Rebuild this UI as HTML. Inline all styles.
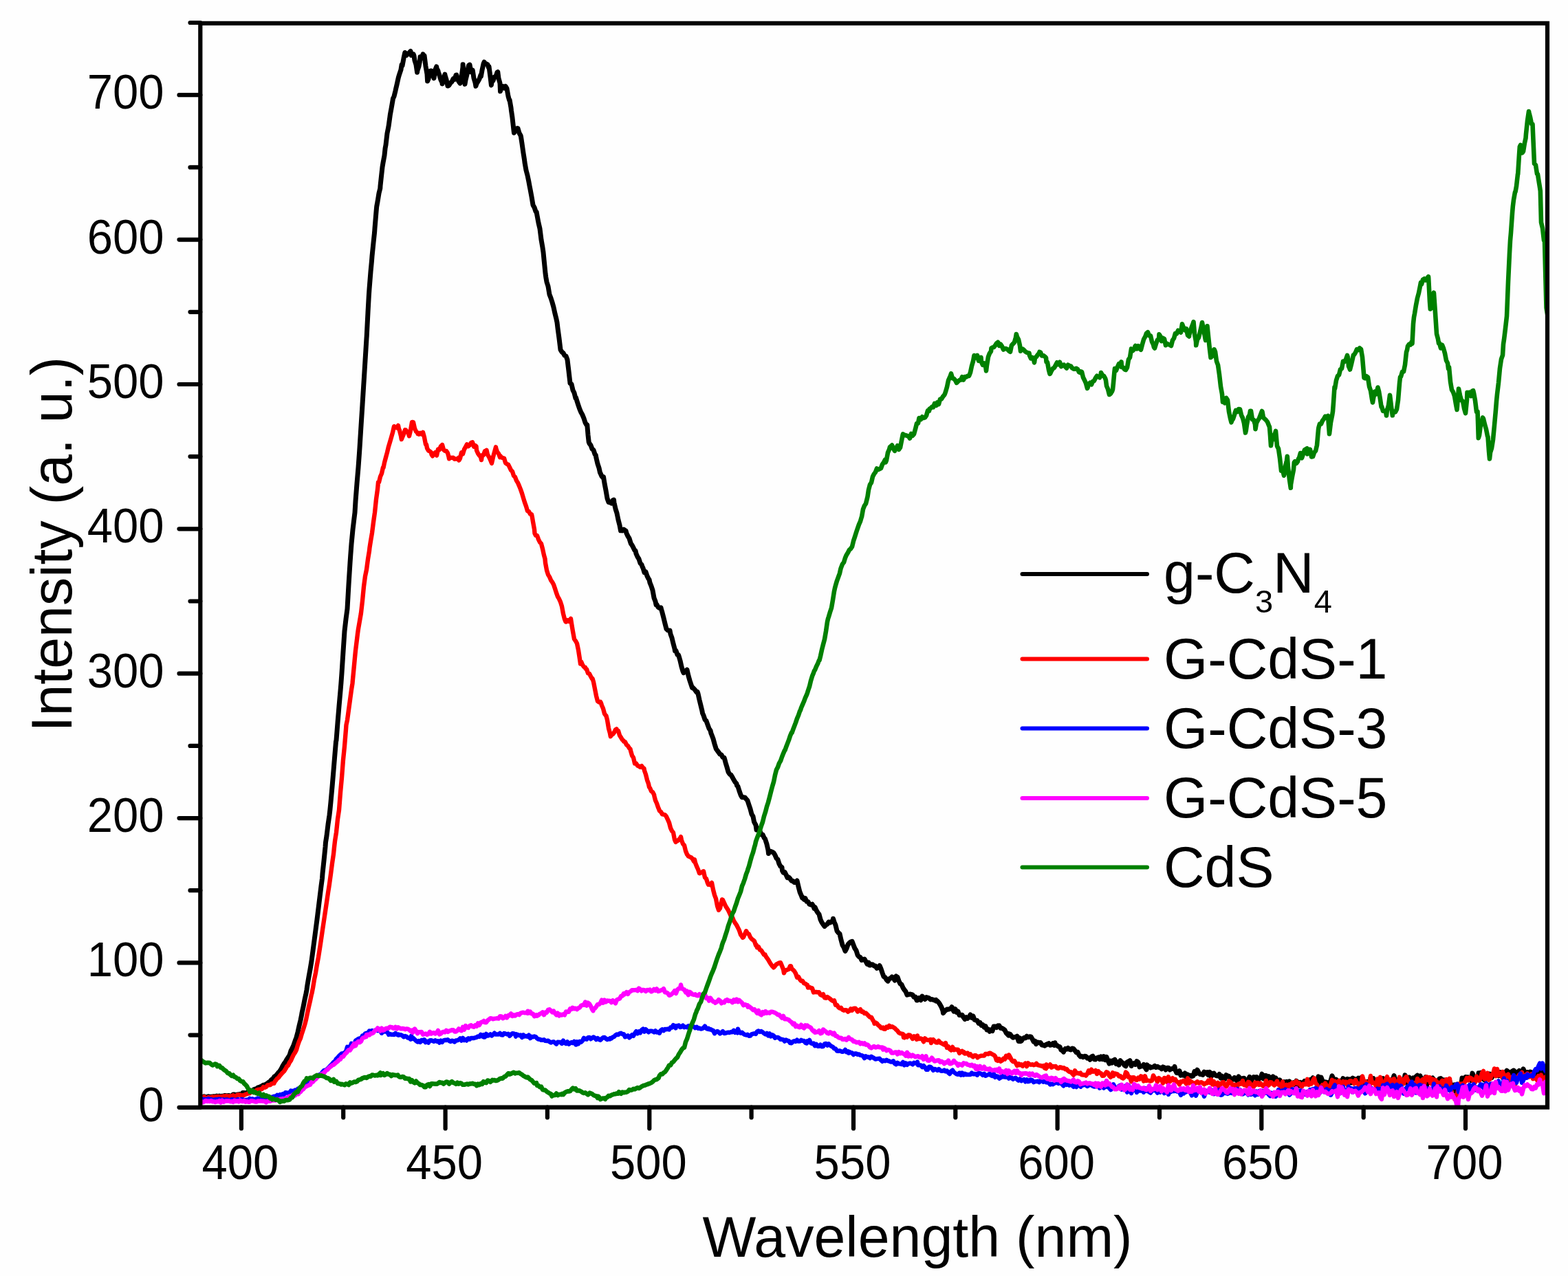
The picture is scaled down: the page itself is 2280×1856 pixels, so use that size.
<!DOCTYPE html>
<html><head><meta charset="utf-8"><title>PL spectra</title>
<style>
html,body{margin:0;padding:0;background:#fff;width:2280px;height:1856px;overflow:hidden}
svg{display:block}
text{font-family:"Liberation Sans",Arial,Helvetica,sans-serif;fill:#000}
</style></head><body>
<svg width="2280" height="1856" viewBox="0 0 2280 1856">
<rect width="2280" height="1856" fill="#fefefe"/>
<defs><clipPath id="pa"><rect x="291.3" y="33.9" width="1958.7" height="1576.8"/></clipPath></defs>

<g clip-path="url(#pa)" fill="none" stroke-linejoin="round" stroke-linecap="round">
<path stroke="#000000" stroke-width="7.0" d="M291.0 1596.0L293.0 1596.1L295.0 1595.7L297.0 1594.7L299.0 1595.9L301.0 1595.5L303.0 1594.8L305.0 1595.4L307.0 1595.2L309.0 1595.0L311.0 1594.8L313.0 1595.0L315.0 1594.1L317.0 1594.4L319.0 1594.1L321.0 1594.6L323.0 1594.2L325.0 1593.9L327.0 1593.5L329.0 1593.7L331.0 1593.8L333.0 1593.5L335.0 1594.3L337.0 1594.1L339.0 1592.0L341.0 1592.1L343.0 1592.6L345.0 1592.0L347.0 1591.9L349.0 1591.4L351.0 1592.0L353.0 1589.6L355.0 1589.5L357.0 1590.5L359.0 1589.1L361.0 1588.6L363.0 1587.4L365.0 1586.3L366.0 1587.1L367.0 1586.6L369.0 1584.8L371.0 1584.1L373.0 1583.5L375.0 1581.9L377.0 1581.4L379.0 1580.6L381.0 1579.5L383.0 1578.2L385.0 1577.9L387.0 1577.0L389.0 1575.7L391.0 1574.0L393.0 1572.9L395.0 1570.2L397.0 1569.0L399.0 1565.9L401.0 1565.0L403.0 1562.5L405.0 1559.8L406.0 1559.3L407.0 1557.9L409.0 1554.7L411.0 1550.6L413.0 1547.2L415.0 1544.6L417.0 1540.9L419.0 1538.0L421.0 1535.0L423.0 1528.5L425.0 1524.7L427.0 1520.2L429.0 1514.3L431.0 1509.0L433.0 1501.3L435.0 1492.3L437.0 1484.0L438.5 1476.8L439.0 1473.6L441.0 1464.4L443.0 1454.2L445.0 1445.0L446.0 1439.6L447.0 1432.5L449.0 1420.8L451.0 1410.0L453.0 1397.9L453.5 1394.1L455.0 1383.0L457.0 1367.9L459.0 1352.6L461.0 1337.5L463.0 1321.2L465.0 1304.9L467.0 1288.8L468.5 1277.6L469.0 1270.7L471.0 1251.8L473.0 1232.0L473.5 1225.3L475.0 1215.9L477.0 1199.3L479.0 1185.7L480.0 1176.8L481.0 1166.5L483.0 1144.4L485.0 1120.7L487.0 1096.5L488.5 1078.7L489.0 1076.8L491.0 1051.2L493.0 1027.2L495.0 1004.8L496.0 992.8L497.0 979.0L499.0 948.0L501.0 918.0L503.0 900.6L505.0 885.6L507.0 850.3L509.0 818.9L509.8 807.3L511.0 791.2L513.0 770.4L515.0 753.7L516.0 745.6L517.0 729.0L519.0 703.2L521.0 679.9L522.5 659.0L523.0 651.4L525.0 619.6L527.0 588.6L528.8 559.5L529.0 556.4L531.0 524.3L533.0 491.9L533.2 489.4L535.0 454.2L536.3 430.5L537.0 420.3L539.0 395.1L540.4 380.4L541.0 372.7L543.0 353.0L544.6 337.9L545.0 332.0L547.0 308.1L547.7 300.5L549.0 293.5L551.0 281.1L552.8 274.0L553.0 270.5L555.0 251.8L556.0 242.9L557.0 236.9L559.0 226.2L560.1 215.6L561.0 210.8L563.0 193.9L564.2 188.0L565.0 183.9L567.0 169.6L567.4 166.5L569.0 157.9L571.0 146.3L571.5 143.2L573.0 140.2L575.0 132.1L575.6 129.3L577.0 123.4L579.0 114.3L579.4 112.6L581.0 107.3L583.0 101.4L584.1 94.2L585.0 95.6L587.0 84.8L588.8 76.5L589.0 80.0L591.0 80.5L593.0 78.0L595.0 76.9L597.0 74.4L598.1 80.4L599.0 79.3L601.0 78.7L601.9 80.9L603.0 87.9L605.0 94.2L606.6 105.3L607.0 102.3L609.0 96.5L610.3 90.0L611.0 82.8L613.0 84.7L615.0 78.9L616.9 81.9L617.0 80.8L619.0 96.3L621.0 107.8L621.6 118.1L623.0 114.8L625.0 103.4L626.3 102.9L627.0 103.0L629.0 110.3L630.0 110.9L631.0 113.8L633.0 101.3L634.7 96.9L635.0 99.4L637.0 103.2L637.5 105.5L639.0 109.4L641.0 116.2L643.0 120.2L643.1 121.9L645.0 115.4L646.9 108.1L647.0 109.3L649.0 115.7L651.0 125.0L651.6 125.0L653.0 123.9L655.0 120.7L657.0 118.9L659.0 114.7L661.0 115.5L663.0 109.4L663.8 109.1L665.0 113.9L667.0 118.4L669.0 121.1L669.4 118.8L671.0 112.3L673.0 97.8L673.1 93.8L675.0 116.0L676.0 122.4L677.0 116.4L679.0 108.4L681.0 97.5L681.6 95.1L683.0 94.1L685.0 104.6L687.0 103.4L687.2 101.9L689.0 113.8L691.0 120.2L691.9 125.3L693.0 121.8L695.0 118.4L697.0 115.0L699.0 109.0L699.4 111.1L701.0 102.1L703.0 92.9L704.1 90.2L705.0 91.9L707.0 92.9L709.0 93.9L710.6 98.7L711.0 96.7L713.0 112.0L714.4 123.9L715.0 119.5L717.0 117.2L719.0 111.9L721.0 111.3L723.0 105.2L723.8 104.7L725.0 113.9L727.0 121.0L727.5 132.8L729.0 126.4L731.0 125.6L733.0 128.1L735.0 125.5L737.0 128.6L739.0 140.0L740.7 146.1L741.0 145.2L743.0 156.7L743.5 161.0L745.0 171.3L747.0 189.4L747.5 193.2L749.0 190.3L751.0 187.0L752.5 186.5L753.0 186.8L755.0 193.6L757.0 197.0L757.5 198.9L759.0 208.7L761.0 222.8L762.5 232.1L763.0 236.3L765.0 247.6L767.0 255.1L769.0 264.8L770.0 270.3L771.0 275.4L773.0 286.2L775.0 298.2L777.0 301.7L779.0 307.7L780.0 308.0L781.0 313.4L783.0 324.1L785.0 332.6L787.0 348.7L789.0 360.2L790.0 367.0L791.0 377.4L793.0 397.5L793.8 403.3L795.0 410.2L797.0 416.5L799.0 428.5L800.0 430.9L801.0 433.5L803.0 439.8L805.0 447.0L807.0 456.2L809.0 464.2L810.0 468.9L811.0 477.3L813.0 491.9L815.0 508.6L817.0 511.9L819.0 513.5L821.0 517.1L823.0 517.9L825.0 523.3L827.0 539.8L828.8 555.6L829.0 557.6L831.0 558.8L833.0 567.5L835.0 571.5L837.0 579.3L837.5 578.4L839.0 583.4L841.0 589.6L843.0 595.4L845.0 600.1L847.0 603.6L849.0 608.5L851.0 614.8L853.0 618.3L853.8 618.0L855.0 632.3L856.2 643.0L857.0 645.0L859.0 647.6L861.0 653.0L863.0 654.7L865.0 660.7L866.2 661.9L867.0 666.3L869.0 674.7L871.0 680.6L872.5 687.4L873.0 688.3L875.0 692.7L877.0 695.1L877.5 693.5L879.0 703.0L881.0 713.4L883.0 725.0L885.0 730.5L887.0 730.8L889.0 732.0L891.0 727.7L892.5 727.1L893.0 731.2L895.0 740.1L897.0 746.4L899.0 756.1L901.0 763.9L902.5 771.8L903.0 770.1L905.0 771.9L907.0 770.1L909.0 771.5L910.0 771.9L911.0 775.8L913.0 779.9L915.0 783.1L917.0 789.6L917.5 790.9L919.0 792.9L921.0 796.7L923.0 800.8L924.0 801.0L925.0 805.4L927.0 809.9L929.0 813.0L931.0 819.3L933.0 821.2L934.0 824.3L935.0 826.2L937.0 832.6L939.0 831.8L941.0 837.9L943.0 841.9L944.0 843.0L945.0 847.7L947.0 852.5L949.0 858.6L951.0 869.7L953.0 874.8L954.0 879.6L955.0 879.3L957.0 883.3L959.0 884.4L961.0 883.8L961.5 886.1L963.0 891.1L965.0 898.8L967.0 907.1L969.0 914.8L971.0 916.7L973.0 917.4L974.0 917.1L975.0 922.4L977.0 927.8L979.0 936.2L981.0 943.7L981.5 946.8L983.0 946.6L985.0 952.3L986.5 952.7L987.0 954.1L989.0 960.9L991.0 969.7L993.0 976.4L994.0 978.7L995.0 977.6L997.0 976.3L999.0 974.2L1001.0 983.0L1003.0 990.0L1005.0 996.0L1006.5 1000.4L1007.0 999.8L1009.0 1001.7L1011.0 1004.1L1013.0 1006.9L1014.0 1006.1L1015.0 1009.0L1017.0 1018.0L1019.0 1026.1L1021.0 1034.4L1021.5 1037.3L1023.0 1040.7L1025.0 1046.7L1027.0 1048.6L1029.0 1054.1L1031.0 1059.6L1033.0 1062.6L1034.0 1066.9L1035.0 1069.2L1037.0 1074.5L1039.0 1082.0L1041.0 1088.4L1041.5 1089.7L1043.0 1091.6L1045.0 1094.4L1047.0 1097.1L1049.0 1097.9L1051.0 1101.4L1053.0 1102.0L1054.0 1105.3L1055.0 1109.2L1057.0 1115.7L1059.0 1122.8L1061.0 1126.0L1063.0 1127.3L1065.0 1130.6L1067.0 1134.3L1069.0 1137.7L1071.0 1139.8L1071.5 1142.6L1073.0 1143.9L1075.0 1150.5L1077.0 1156.2L1079.0 1159.8L1081.0 1159.7L1083.0 1159.9L1085.0 1162.2L1086.5 1163.8L1087.0 1164.5L1089.0 1170.8L1091.0 1176.7L1093.0 1184.3L1095.0 1187.6L1096.5 1195.3L1097.0 1196.4L1099.0 1200.1L1100.0 1207.1L1101.0 1204.0L1103.0 1206.7L1105.0 1208.9L1107.0 1214.0L1109.0 1213.9L1111.0 1218.4L1112.5 1220.2L1113.0 1221.8L1115.0 1227.9L1117.0 1236.8L1117.5 1241.5L1119.0 1238.0L1121.0 1238.5L1123.0 1239.3L1125.0 1240.5L1127.0 1243.8L1129.0 1248.4L1131.0 1250.2L1133.0 1256.6L1135.0 1260.2L1137.0 1261.6L1137.5 1266.3L1139.0 1269.2L1141.0 1268.5L1143.0 1272.3L1145.0 1276.7L1147.0 1276.0L1149.0 1278.2L1150.0 1279.9L1151.0 1281.2L1153.0 1281.4L1155.0 1283.5L1157.0 1283.2L1159.0 1281.0L1161.0 1289.6L1163.0 1297.5L1165.0 1302.1L1166.5 1306.1L1167.0 1305.0L1169.0 1308.2L1171.0 1306.8L1173.0 1311.3L1175.0 1311.6L1177.0 1315.3L1179.0 1316.0L1181.0 1315.2L1183.0 1318.8L1184.0 1321.4L1185.0 1319.5L1187.0 1324.1L1189.0 1327.4L1191.0 1329.9L1193.0 1337.5L1195.0 1341.8L1197.0 1344.6L1199.0 1347.4L1201.0 1345.3L1203.0 1344.2L1205.0 1341.0L1207.0 1342.0L1209.0 1340.7L1211.0 1338.9L1211.5 1336.2L1213.0 1341.0L1215.0 1345.7L1217.0 1354.0L1219.0 1356.6L1221.0 1358.4L1223.0 1367.2L1225.0 1374.7L1227.0 1378.0L1229.0 1383.4L1231.0 1379.6L1233.0 1373.8L1235.0 1371.6L1237.0 1370.0L1239.0 1369.3L1241.0 1374.5L1243.0 1379.6L1245.0 1382.5L1247.0 1389.0L1249.0 1391.6L1251.0 1392.5L1253.0 1396.7L1255.0 1395.5L1257.0 1395.1L1259.0 1398.6L1261.0 1402.2L1263.0 1400.1L1264.0 1403.9L1265.0 1404.1L1267.0 1402.7L1269.0 1403.0L1271.0 1404.9L1273.0 1405.1L1275.0 1408.3L1277.0 1407.3L1279.0 1404.5L1281.0 1409.1L1283.0 1415.1L1285.0 1420.5L1287.0 1421.6L1289.0 1425.0L1291.0 1427.1L1293.0 1423.8L1295.0 1423.0L1297.0 1420.9L1299.0 1422.0L1301.0 1426.0L1303.0 1419.9L1304.0 1422.0L1305.0 1421.2L1307.0 1426.7L1309.0 1430.9L1311.0 1432.1L1313.0 1436.7L1315.0 1439.7L1317.0 1442.2L1319.0 1447.2L1321.0 1446.7L1323.0 1446.0L1325.0 1446.4L1327.0 1447.1L1329.0 1450.3L1331.0 1450.0L1333.0 1455.0L1334.0 1454.9L1335.0 1451.7L1337.0 1451.5L1339.0 1454.7L1341.0 1449.0L1343.0 1451.3L1345.0 1453.5L1347.0 1450.5L1349.0 1451.2L1351.0 1451.8L1353.0 1453.9L1355.0 1453.4L1357.0 1454.2L1359.0 1455.0L1361.0 1454.4L1361.5 1456.3L1363.0 1456.0L1365.0 1458.3L1367.0 1461.3L1369.0 1465.0L1371.0 1470.2L1371.5 1473.6L1373.0 1471.7L1375.0 1469.6L1377.0 1468.1L1379.0 1468.2L1381.0 1467.6L1383.0 1466.5L1384.0 1464.7L1385.0 1467.1L1387.0 1471.1L1389.0 1467.7L1391.0 1472.4L1393.0 1471.1L1395.0 1476.5L1397.0 1476.6L1399.0 1476.2L1401.0 1479.7L1403.0 1482.4L1405.0 1479.7L1407.0 1481.4L1409.0 1479.4L1411.0 1476.0L1413.0 1480.3L1414.0 1478.8L1415.0 1478.0L1417.0 1483.3L1419.0 1484.1L1421.0 1484.5L1423.0 1488.4L1425.0 1487.3L1427.0 1491.4L1429.0 1490.5L1431.0 1494.1L1433.0 1492.6L1435.0 1498.0L1437.0 1497.2L1439.0 1500.3L1441.0 1497.9L1441.5 1498.7L1443.0 1499.5L1445.0 1492.9L1447.0 1493.0L1449.0 1494.6L1451.0 1491.9L1451.5 1492.3L1453.0 1491.9L1455.0 1495.4L1457.0 1495.5L1459.0 1496.7L1461.0 1498.3L1463.0 1502.3L1465.0 1504.5L1466.5 1506.0L1467.0 1503.6L1469.0 1504.5L1471.0 1507.4L1473.0 1509.3L1475.0 1508.5L1477.0 1508.6L1479.0 1507.1L1481.0 1514.4L1483.0 1510.0L1484.0 1514.7L1485.0 1514.2L1487.0 1511.4L1489.0 1509.4L1491.0 1509.9L1493.0 1507.2L1495.0 1508.8L1497.0 1507.7L1499.0 1507.9L1501.0 1511.2L1503.0 1515.1L1505.0 1514.4L1506.5 1518.7L1507.0 1515.8L1509.0 1516.0L1511.0 1516.8L1513.0 1516.5L1515.0 1520.0L1517.0 1520.2L1519.0 1521.1L1521.0 1519.4L1521.5 1519.9L1523.0 1518.6L1525.0 1517.7L1527.0 1520.2L1529.0 1519.9L1531.0 1517.7L1533.0 1520.4L1534.0 1516.7L1535.0 1519.9L1537.0 1520.6L1539.0 1522.2L1541.0 1522.7L1543.0 1527.3L1545.0 1528.1L1546.5 1530.1L1547.0 1528.3L1549.0 1525.4L1551.0 1526.3L1553.0 1524.4L1555.0 1526.4L1557.0 1527.0L1559.0 1525.0L1561.0 1525.5L1563.0 1527.9L1565.0 1530.8L1567.0 1530.2L1569.0 1534.7L1571.0 1536.8L1571.5 1536.1L1573.0 1536.5L1575.0 1537.7L1577.0 1536.3L1579.0 1536.5L1581.0 1539.3L1583.0 1538.7L1585.0 1541.2L1587.0 1537.2L1589.0 1536.2L1591.0 1540.7L1593.0 1541.0L1595.0 1538.7L1597.0 1537.9L1599.0 1540.6L1601.0 1536.8L1603.0 1540.6L1605.0 1536.6L1607.0 1541.7L1609.0 1537.5L1611.0 1542.5L1613.0 1547.1L1615.0 1543.2L1617.0 1546.1L1618.0 1542.9L1619.0 1542.4L1621.0 1541.1L1623.0 1547.4L1625.0 1545.0L1627.0 1549.2L1629.0 1542.7L1631.0 1545.2L1633.0 1546.1L1635.0 1549.5L1637.0 1550.7L1639.0 1544.9L1641.0 1544.0L1643.0 1542.7L1645.0 1550.5L1647.0 1547.5L1649.0 1546.5L1651.0 1548.4L1653.0 1543.7L1655.0 1545.1L1657.0 1551.9L1659.0 1551.0L1661.0 1550.8L1663.0 1548.5L1665.0 1552.7L1667.0 1555.9L1668.0 1548.9L1669.0 1552.0L1671.0 1551.0L1673.0 1553.1L1675.0 1552.3L1677.0 1552.1L1679.0 1550.4L1681.0 1552.6L1683.0 1551.3L1685.0 1552.6L1687.0 1552.9L1689.0 1554.8L1691.0 1551.9L1693.0 1552.7L1695.0 1556.1L1697.0 1553.2L1699.0 1553.2L1701.0 1556.0L1703.0 1554.7L1705.0 1554.4L1707.0 1554.8L1708.0 1551.4L1709.0 1556.5L1711.0 1560.6L1713.0 1560.8L1715.0 1557.6L1717.0 1564.1L1718.0 1562.2L1719.0 1563.7L1721.0 1564.3L1723.0 1560.9L1725.0 1566.7L1727.0 1563.0L1729.0 1564.8L1731.0 1564.2L1733.0 1565.6L1735.0 1565.0L1737.0 1558.3L1739.0 1561.7L1741.0 1556.2L1743.0 1560.0L1745.0 1562.5L1747.0 1562.7L1749.0 1563.4L1751.0 1559.1L1753.0 1560.5L1755.0 1559.7L1755.5 1562.5L1757.0 1563.6L1759.0 1559.5L1761.0 1566.2L1763.0 1561.4L1765.0 1561.1L1767.0 1563.9L1769.0 1564.8L1771.0 1564.9L1773.0 1562.5L1775.0 1568.2L1777.0 1565.3L1779.0 1569.4L1781.0 1569.6L1783.0 1563.7L1785.0 1565.0L1787.0 1565.4L1789.0 1569.0L1791.0 1569.0L1793.0 1570.1L1795.0 1567.4L1797.0 1570.3L1799.0 1572.5L1801.0 1565.9L1803.0 1568.5L1805.0 1569.5L1807.0 1568.4L1809.0 1568.2L1811.0 1572.8L1813.0 1571.5L1815.0 1570.4L1817.0 1566.4L1819.0 1573.5L1821.0 1568.9L1823.0 1566.6L1825.0 1567.1L1827.0 1566.6L1829.0 1572.8L1831.0 1568.1L1833.0 1567.6L1835.0 1562.2L1837.0 1569.0L1839.0 1564.6L1841.0 1564.4L1843.0 1568.4L1845.0 1565.7L1847.0 1570.6L1849.0 1572.1L1851.0 1565.9L1853.0 1570.6L1855.0 1568.0L1857.0 1572.4L1859.0 1575.6L1861.0 1570.9L1863.0 1579.3L1865.0 1575.0L1867.0 1573.7L1868.0 1576.7L1869.0 1578.8L1871.0 1573.4L1873.0 1576.5L1875.0 1573.0L1877.0 1579.0L1879.0 1576.2L1881.0 1574.6L1883.0 1577.9L1885.0 1572.2L1887.0 1574.1L1889.0 1579.3L1891.0 1574.4L1893.0 1577.7L1895.0 1574.7L1897.0 1572.4L1899.0 1573.3L1901.0 1573.9L1903.0 1572.0L1905.0 1570.4L1907.0 1570.4L1909.0 1567.8L1911.0 1573.0L1913.0 1573.8L1915.0 1574.8L1917.0 1565.9L1918.0 1574.7L1919.0 1571.9L1921.0 1567.1L1923.0 1572.3L1925.0 1574.7L1927.0 1573.7L1929.0 1574.4L1931.0 1575.1L1933.0 1575.0L1935.0 1571.8L1937.0 1564.8L1939.0 1569.3L1941.0 1573.1L1943.0 1570.3L1945.0 1574.3L1947.0 1574.6L1949.0 1572.1L1951.0 1578.3L1953.0 1568.6L1955.0 1575.1L1957.0 1570.3L1959.0 1569.3L1961.0 1573.9L1963.0 1569.8L1965.0 1574.9L1967.0 1568.0L1968.0 1572.1L1969.0 1569.1L1971.0 1571.1L1973.0 1570.7L1975.0 1568.1L1977.0 1574.2L1979.0 1567.7L1981.0 1568.6L1983.0 1575.0L1985.0 1575.2L1987.0 1574.2L1989.0 1573.1L1991.0 1579.5L1993.0 1567.8L1995.0 1569.4L1997.0 1568.6L1999.0 1575.0L2001.0 1572.9L2003.0 1575.7L2005.0 1575.2L2007.0 1571.2L2009.0 1569.2L2011.0 1568.6L2013.0 1579.5L2015.0 1575.2L2017.0 1574.0L2019.0 1570.8L2021.0 1571.3L2023.0 1570.8L2025.0 1570.8L2027.0 1564.5L2029.0 1571.7L2031.0 1570.5L2033.0 1572.7L2035.0 1572.4L2037.0 1574.5L2039.0 1571.5L2041.0 1574.1L2043.0 1563.9L2045.0 1567.5L2047.0 1577.1L2049.0 1567.0L2051.0 1570.1L2053.0 1573.4L2055.0 1567.9L2057.0 1573.3L2059.0 1565.9L2061.0 1564.2L2063.0 1566.1L2065.0 1564.9L2067.0 1570.4L2069.0 1569.3L2071.0 1571.4L2073.0 1566.7L2075.0 1577.7L2077.0 1569.7L2079.0 1569.8L2080.0 1571.5L2081.0 1569.2L2083.0 1568.0L2085.0 1570.6L2087.0 1573.6L2089.0 1572.9L2091.0 1574.0L2093.0 1569.1L2095.0 1568.5L2097.0 1578.1L2099.0 1570.7L2101.0 1573.3L2103.0 1574.3L2105.0 1576.8L2107.0 1570.0L2109.0 1575.7L2111.0 1578.5L2113.0 1581.6L2115.0 1577.9L2117.0 1587.6L2119.0 1577.0L2121.0 1581.9L2123.0 1579.1L2125.0 1575.8L2126.0 1567.9L2127.0 1575.0L2129.0 1568.3L2131.0 1566.5L2133.0 1566.9L2135.0 1566.8L2137.0 1569.8L2139.0 1571.5L2141.0 1561.1L2143.0 1565.9L2145.0 1570.3L2147.0 1567.4L2149.0 1568.0L2150.0 1560.9L2151.0 1569.1L2153.0 1560.3L2155.0 1566.0L2157.0 1569.8L2159.0 1571.3L2161.0 1566.4L2163.0 1567.4L2165.0 1562.1L2167.0 1562.3L2169.0 1567.7L2171.0 1563.5L2173.0 1562.8L2175.0 1558.2L2177.0 1563.3L2179.0 1564.7L2181.0 1559.6L2183.0 1560.3L2185.0 1567.2L2187.0 1562.2L2189.0 1560.3L2191.0 1557.2L2193.0 1558.7L2195.0 1559.8L2197.0 1565.0L2199.0 1558.0L2200.0 1566.1L2201.0 1556.9L2203.0 1558.9L2205.0 1563.1L2207.0 1559.5L2209.0 1557.5L2211.0 1560.0L2213.0 1562.0L2215.0 1554.8L2217.0 1559.8L2219.0 1560.4L2221.0 1559.5L2223.0 1563.4L2225.0 1559.1L2227.0 1559.8L2229.0 1561.3L2231.0 1563.7L2233.0 1560.6L2235.0 1566.6L2237.0 1558.4L2239.0 1565.9L2241.0 1558.7L2243.0 1561.2L2245.0 1563.0L2247.0 1568.9L2249.0 1565.0L2250.0 1560.6"/>
<path stroke="#ff0000" stroke-width="6.4" d="M291.0 1597.1L293.0 1596.6L295.0 1596.5L297.0 1595.3L299.0 1597.6L301.0 1597.0L303.0 1596.0L305.0 1596.6L307.0 1596.1L309.0 1595.5L311.0 1596.3L313.0 1595.4L315.0 1595.3L317.0 1594.9L319.0 1595.5L321.0 1595.0L323.0 1595.3L325.0 1594.5L327.0 1594.8L329.0 1594.0L331.0 1594.9L333.0 1594.4L335.0 1594.4L337.0 1594.3L339.0 1593.3L341.0 1594.3L343.0 1594.9L345.0 1592.6L347.0 1592.4L349.0 1592.4L351.0 1593.7L353.0 1593.1L353.5 1593.6L355.0 1592.9L357.0 1591.9L359.0 1591.3L361.0 1590.3L363.0 1590.3L365.0 1588.4L367.0 1588.2L369.0 1587.9L371.0 1588.1L373.0 1585.9L375.0 1585.0L377.0 1584.7L378.5 1585.1L379.0 1584.1L381.0 1584.0L383.0 1581.1L385.0 1581.9L387.0 1580.9L389.0 1578.4L391.0 1578.3L393.0 1578.0L395.0 1576.3L397.0 1575.8L398.5 1575.8L399.0 1574.1L401.0 1571.5L403.0 1568.9L405.0 1567.5L407.0 1564.7L409.0 1562.4L411.0 1560.2L413.0 1558.3L415.0 1555.0L416.0 1553.6L417.0 1551.3L419.0 1549.7L421.0 1545.4L423.0 1542.6L425.0 1538.0L427.0 1533.9L429.0 1531.0L431.0 1527.0L433.0 1520.2L435.0 1514.5L437.0 1510.1L439.0 1503.2L441.0 1497.2L443.0 1490.8L443.5 1489.1L445.0 1483.3L447.0 1473.7L449.0 1464.3L451.0 1455.7L453.0 1446.2L453.5 1444.6L455.0 1436.9L457.0 1424.7L459.0 1415.1L461.0 1402.8L463.0 1392.3L463.5 1389.0L465.0 1379.4L467.0 1366.2L469.0 1352.6L471.0 1339.1L473.0 1325.8L475.0 1312.3L477.0 1298.6L478.5 1289.3L479.0 1285.9L481.0 1271.4L483.0 1255.8L485.0 1242.3L486.0 1232.4L487.0 1223.6L489.0 1210.7L491.0 1191.5L493.0 1178.2L495.0 1152.7L497.0 1131.1L499.0 1105.2L501.0 1085.5L503.0 1061.1L503.5 1054.3L505.0 1047.3L507.0 1032.5L509.0 1018.0L511.0 1003.4L512.5 993.9L513.0 988.3L515.0 967.4L516.0 956.5L517.0 946.4L519.0 930.1L520.0 921.9L521.0 914.7L523.0 903.2L524.8 892.9L525.0 891.5L527.0 874.0L529.0 853.2L530.0 845.7L531.0 838.1L533.0 828.5L535.0 813.3L537.0 801.3L537.5 796.4L539.0 786.9L541.0 775.2L543.0 759.5L545.0 745.4L547.0 726.1L549.0 711.8L550.0 701.4L551.0 701.6L553.0 693.2L555.0 688.8L557.0 679.8L557.5 680.5L559.0 672.9L561.0 665.4L563.0 658.0L565.0 649.6L567.0 643.0L569.0 636.2L571.0 629.1L572.5 622.4L573.0 620.2L575.0 621.1L577.0 622.2L579.0 618.9L580.0 623.8L581.0 626.1L583.0 634.1L583.8 639.1L585.0 636.1L587.0 631.4L589.0 625.3L590.0 625.5L591.0 627.1L593.0 628.0L595.0 634.3L597.0 625.9L599.0 614.2L600.0 614.0L601.0 614.1L603.0 623.2L605.0 627.6L607.0 629.4L607.5 631.0L609.0 631.7L611.0 629.8L613.0 631.4L615.0 628.8L617.0 636.0L619.0 646.5L620.0 646.5L621.0 651.9L623.0 655.5L625.0 656.4L627.0 658.1L627.5 661.0L629.0 663.3L631.0 660.3L633.0 658.1L635.0 662.5L637.0 653.5L639.0 654.2L641.0 649.0L642.5 649.1L643.0 646.9L645.0 654.1L647.0 655.9L649.0 655.9L651.0 659.0L652.5 664.5L653.0 667.3L655.0 665.6L657.0 665.9L659.0 665.7L661.0 667.7L663.0 667.4L665.0 667.6L667.0 665.7L667.5 669.5L669.0 666.8L671.0 658.3L673.0 660.2L675.0 653.7L677.0 650.2L679.0 646.3L681.0 649.1L683.0 647.4L685.0 644.0L687.0 643.3L689.0 649.6L691.0 648.0L692.5 649.2L693.0 654.9L695.0 659.6L697.0 662.4L699.0 664.8L700.0 669.1L701.0 662.2L703.0 661.9L705.0 656.2L707.0 655.3L707.5 654.8L709.0 661.4L711.0 664.7L713.0 668.8L715.0 673.9L717.0 664.7L719.0 657.6L721.0 650.3L721.2 651.9L723.0 657.3L725.0 659.7L727.0 665.1L727.5 663.0L729.0 665.2L731.0 666.0L733.0 666.5L735.0 673.2L737.0 674.9L739.0 675.7L741.0 679.6L743.0 683.9L745.0 685.8L747.0 692.0L749.0 693.9L751.0 699.1L753.0 702.3L755.0 706.9L757.0 711.9L759.0 717.6L761.0 724.3L762.5 729.2L763.0 730.9L765.0 736.3L767.0 743.1L767.5 743.5L769.0 744.0L771.0 747.6L773.0 748.3L773.8 751.7L775.0 759.0L777.0 770.0L777.5 775.9L779.0 778.8L781.0 779.0L783.0 784.6L785.0 788.7L787.0 790.7L787.5 792.7L789.0 798.4L791.0 807.6L792.5 812.9L793.0 818.6L795.0 829.5L797.0 835.9L799.0 839.1L801.0 843.8L803.0 846.6L805.0 850.2L807.0 856.1L809.0 862.4L811.0 867.9L813.0 871.2L815.0 875.6L817.0 882.0L819.0 892.8L821.0 900.6L822.5 904.4L823.0 904.6L825.0 902.1L827.0 903.8L829.0 901.2L830.0 899.9L831.0 906.5L833.0 918.5L835.0 929.5L837.0 932.3L839.0 936.0L841.0 945.6L843.0 958.5L844.0 965.6L845.0 962.2L847.0 967.0L849.0 969.8L851.0 970.7L851.5 972.7L853.0 973.4L855.0 979.2L857.0 980.0L859.0 983.9L861.0 987.6L861.5 987.0L863.0 991.9L865.0 1002.0L867.0 1012.2L869.0 1019.9L871.0 1021.3L873.0 1020.7L874.0 1022.7L875.0 1026.0L877.0 1030.5L879.0 1038.1L881.0 1040.9L881.5 1041.3L883.0 1047.2L885.0 1059.3L887.0 1066.6L887.8 1071.2L889.0 1069.1L891.0 1068.2L893.0 1065.5L895.0 1061.3L896.5 1060.3L897.0 1062.2L899.0 1062.9L901.0 1069.6L903.0 1072.8L905.0 1076.1L906.5 1077.3L907.0 1078.5L909.0 1079.3L911.0 1083.2L913.0 1084.9L915.0 1088.2L916.5 1089.4L917.0 1091.8L919.0 1098.9L921.0 1101.9L923.0 1110.6L924.0 1110.1L925.0 1110.3L927.0 1113.6L929.0 1114.5L931.0 1115.8L933.0 1114.1L935.0 1116.8L936.5 1117.7L937.0 1120.8L939.0 1126.5L941.0 1134.6L943.0 1140.2L944.0 1144.8L945.0 1146.1L947.0 1150.8L949.0 1152.1L951.0 1155.7L951.5 1158.2L953.0 1164.1L955.0 1168.5L957.0 1174.4L958.0 1176.6L959.0 1179.4L961.0 1180.8L963.0 1184.3L965.0 1184.7L967.0 1185.3L969.0 1187.8L971.0 1192.1L973.0 1196.6L975.0 1204.4L977.0 1208.7L979.0 1211.0L981.0 1221.5L982.5 1224.8L983.0 1223.0L985.0 1223.3L987.0 1221.4L989.0 1219.2L990.0 1217.2L991.0 1222.0L993.0 1227.4L995.0 1229.4L997.0 1237.7L999.0 1242.7L1000.0 1243.9L1001.0 1245.4L1003.0 1246.4L1005.0 1247.2L1007.0 1249.3L1009.0 1252.9L1010.0 1250.3L1011.0 1255.0L1013.0 1260.2L1015.0 1264.5L1017.0 1270.1L1017.5 1270.3L1019.0 1269.5L1021.0 1268.5L1022.5 1267.4L1023.0 1267.3L1025.0 1276.3L1027.0 1278.3L1029.0 1284.5L1030.0 1286.7L1031.0 1286.0L1033.0 1287.1L1035.0 1283.9L1037.0 1294.1L1039.0 1301.9L1041.0 1307.2L1043.0 1317.7L1045.0 1323.7L1047.0 1321.1L1049.0 1312.0L1050.0 1308.4L1051.0 1309.0L1053.0 1313.3L1055.0 1317.8L1057.0 1320.9L1059.0 1324.2L1061.0 1328.5L1062.5 1331.8L1063.0 1334.6L1065.0 1334.5L1067.0 1339.4L1069.0 1342.6L1071.0 1345.5L1073.0 1349.4L1075.0 1353.4L1077.0 1359.4L1079.0 1362.3L1080.0 1363.9L1081.0 1363.2L1083.0 1358.8L1085.0 1354.2L1087.0 1357.6L1089.0 1358.8L1091.0 1363.3L1093.0 1365.7L1095.0 1367.3L1097.0 1369.0L1099.0 1375.0L1100.0 1374.6L1101.0 1378.3L1103.0 1377.3L1105.0 1381.5L1107.0 1382.4L1109.0 1385.6L1111.0 1388.7L1112.5 1388.5L1113.0 1390.1L1115.0 1393.2L1117.0 1395.9L1119.0 1399.3L1121.0 1402.6L1123.0 1405.2L1125.0 1407.3L1127.0 1405.1L1129.0 1402.6L1131.0 1401.6L1133.0 1400.4L1135.0 1400.3L1137.0 1405.1L1139.0 1410.0L1140.0 1415.3L1141.0 1412.8L1143.0 1411.3L1145.0 1410.5L1147.0 1409.8L1149.0 1405.1L1150.0 1405.2L1151.0 1408.7L1153.0 1410.6L1155.0 1412.6L1157.0 1415.9L1159.0 1421.7L1161.0 1420.8L1163.0 1424.6L1165.0 1426.8L1167.0 1426.8L1169.0 1430.2L1171.0 1430.8L1173.0 1432.5L1174.0 1432.7L1175.0 1436.6L1177.0 1435.9L1179.0 1436.9L1181.0 1437.4L1183.0 1443.4L1185.0 1443.0L1187.0 1443.0L1189.0 1443.4L1191.0 1443.1L1193.0 1447.0L1195.0 1448.0L1197.0 1446.2L1199.0 1451.4L1201.0 1451.7L1203.0 1450.0L1205.0 1451.6L1207.0 1452.8L1209.0 1454.8L1211.0 1455.9L1213.0 1455.2L1215.0 1461.9L1217.0 1461.7L1219.0 1464.9L1221.0 1466.5L1223.0 1465.8L1224.0 1467.5L1225.0 1468.7L1227.0 1469.7L1229.0 1469.2L1231.0 1469.5L1233.0 1471.6L1234.0 1470.7L1235.0 1470.6L1237.0 1467.3L1239.0 1469.6L1241.0 1466.9L1243.0 1466.6L1244.0 1466.9L1245.0 1468.0L1247.0 1471.5L1249.0 1469.8L1251.0 1468.2L1253.0 1471.7L1255.0 1471.5L1257.0 1474.1L1259.0 1473.4L1261.0 1475.4L1263.0 1477.7L1265.0 1479.5L1267.0 1479.6L1269.0 1483.4L1271.0 1486.5L1271.5 1488.9L1273.0 1487.4L1275.0 1488.5L1277.0 1491.2L1279.0 1492.4L1281.0 1495.3L1283.0 1494.8L1284.0 1494.5L1285.0 1496.6L1287.0 1496.9L1289.0 1493.7L1291.0 1494.8L1293.0 1491.8L1295.0 1493.9L1297.0 1493.1L1299.0 1494.2L1301.0 1495.4L1303.0 1497.6L1305.0 1499.3L1307.0 1502.0L1309.0 1503.2L1311.0 1503.6L1313.0 1504.1L1314.0 1509.0L1315.0 1509.4L1317.0 1506.6L1319.0 1508.5L1321.0 1505.4L1323.0 1505.6L1325.0 1507.9L1327.0 1511.0L1329.0 1507.2L1331.0 1507.8L1333.0 1511.9L1334.0 1506.5L1335.0 1510.8L1337.0 1511.0L1339.0 1510.4L1341.0 1511.6L1343.0 1515.3L1345.0 1510.4L1347.0 1512.2L1349.0 1512.9L1351.0 1512.6L1353.0 1512.1L1354.0 1517.0L1355.0 1515.0L1357.0 1512.2L1359.0 1514.2L1361.0 1516.3L1363.0 1516.6L1365.0 1514.0L1367.0 1516.5L1369.0 1517.4L1371.0 1518.6L1373.0 1519.6L1375.0 1517.1L1377.0 1524.0L1379.0 1522.3L1381.0 1525.9L1383.0 1527.5L1384.0 1524.2L1385.0 1523.0L1387.0 1527.2L1389.0 1526.4L1391.0 1526.8L1393.0 1526.7L1395.0 1531.9L1397.0 1529.4L1399.0 1528.7L1401.0 1531.1L1401.5 1530.1L1403.0 1532.6L1405.0 1532.2L1407.0 1531.7L1409.0 1534.8L1411.0 1533.3L1413.0 1536.0L1415.0 1537.4L1417.0 1535.3L1419.0 1535.3L1421.0 1537.2L1421.5 1538.4L1423.0 1536.6L1425.0 1536.3L1427.0 1535.6L1429.0 1535.6L1431.0 1535.6L1433.0 1533.0L1435.0 1532.9L1437.0 1533.2L1439.0 1531.6L1441.0 1532.3L1441.5 1532.9L1443.0 1533.5L1445.0 1534.5L1447.0 1536.3L1449.0 1542.3L1451.0 1542.9L1451.5 1540.2L1453.0 1540.2L1455.0 1543.8L1457.0 1542.6L1459.0 1539.7L1461.0 1540.7L1463.0 1535.8L1465.0 1537.5L1466.5 1538.2L1467.0 1534.4L1469.0 1537.8L1471.0 1542.0L1473.0 1544.2L1475.0 1543.1L1477.0 1546.2L1479.0 1550.0L1481.0 1548.5L1481.5 1547.4L1483.0 1549.2L1485.0 1548.3L1487.0 1550.7L1489.0 1548.5L1491.0 1546.6L1493.0 1551.1L1495.0 1546.4L1496.5 1547.8L1497.0 1548.2L1499.0 1548.8L1501.0 1548.2L1503.0 1549.2L1505.0 1548.6L1507.0 1546.8L1509.0 1549.1L1511.0 1549.6L1513.0 1550.0L1515.0 1550.9L1517.0 1550.1L1519.0 1553.6L1521.0 1554.4L1521.5 1548.5L1523.0 1552.0L1525.0 1550.9L1527.0 1548.5L1529.0 1552.7L1531.0 1551.0L1533.0 1551.4L1535.0 1551.0L1537.0 1553.7L1539.0 1554.0L1541.0 1552.4L1541.5 1553.1L1543.0 1552.5L1545.0 1553.7L1547.0 1553.2L1549.0 1555.3L1551.0 1554.9L1553.0 1557.5L1555.0 1559.1L1557.0 1559.1L1559.0 1561.4L1561.0 1563.6L1563.0 1557.2L1565.0 1561.2L1567.0 1560.8L1569.0 1561.5L1571.0 1560.6L1573.0 1563.4L1575.0 1563.5L1577.0 1563.4L1579.0 1564.6L1581.0 1561.9L1583.0 1557.2L1585.0 1560.3L1586.5 1556.5L1587.0 1555.7L1589.0 1558.8L1591.0 1558.4L1593.0 1557.0L1595.0 1562.0L1597.0 1558.1L1599.0 1560.5L1601.0 1561.3L1603.0 1564.9L1605.0 1564.6L1607.0 1561.8L1609.0 1559.3L1611.0 1560.4L1613.0 1564.7L1615.0 1566.8L1617.0 1563.5L1618.0 1560.2L1619.0 1565.1L1621.0 1561.5L1623.0 1561.9L1625.0 1562.6L1627.0 1565.5L1629.0 1565.0L1631.0 1567.4L1633.0 1568.6L1635.0 1566.8L1637.0 1559.6L1639.0 1561.4L1641.0 1567.0L1643.0 1566.8L1645.0 1573.2L1647.0 1567.3L1649.0 1567.2L1651.0 1570.4L1653.0 1571.0L1655.0 1567.5L1657.0 1569.7L1659.0 1565.4L1661.0 1566.2L1663.0 1572.5L1665.0 1565.3L1667.0 1572.0L1669.0 1571.5L1671.0 1572.0L1673.0 1572.6L1675.0 1571.8L1677.0 1564.4L1679.0 1567.8L1681.0 1569.1L1683.0 1573.6L1685.0 1568.0L1687.0 1569.4L1689.0 1570.6L1691.0 1575.5L1693.0 1568.0L1695.0 1568.3L1697.0 1574.0L1699.0 1566.3L1701.0 1573.3L1703.0 1571.2L1705.0 1568.2L1707.0 1571.5L1709.0 1570.0L1711.0 1573.4L1713.0 1574.0L1715.0 1577.3L1717.0 1573.2L1719.0 1573.6L1721.0 1571.8L1723.0 1573.4L1725.0 1576.5L1727.0 1568.3L1729.0 1575.6L1731.0 1572.4L1733.0 1574.2L1735.0 1575.0L1737.0 1576.6L1739.0 1575.0L1741.0 1573.3L1743.0 1575.4L1745.0 1574.6L1747.0 1574.1L1749.0 1575.4L1751.0 1577.3L1753.0 1575.4L1755.0 1575.5L1757.0 1571.6L1759.0 1574.9L1761.0 1570.2L1763.0 1577.5L1765.0 1573.0L1767.0 1579.3L1769.0 1582.0L1771.0 1574.8L1773.0 1579.7L1775.0 1577.2L1777.0 1574.6L1779.0 1573.9L1781.0 1578.0L1783.0 1580.4L1785.0 1577.6L1787.0 1572.5L1789.0 1573.9L1791.0 1576.3L1793.0 1580.8L1795.0 1577.8L1797.0 1577.9L1799.0 1580.4L1801.0 1576.4L1803.0 1576.8L1805.0 1576.5L1807.0 1572.0L1809.0 1578.3L1811.0 1578.2L1813.0 1579.7L1815.0 1573.7L1817.0 1574.7L1819.0 1579.6L1821.0 1577.9L1823.0 1580.9L1825.0 1574.6L1827.0 1577.6L1829.0 1575.1L1831.0 1577.9L1833.0 1575.6L1835.0 1578.5L1837.0 1580.0L1839.0 1578.9L1841.0 1571.9L1843.0 1579.6L1845.0 1578.3L1847.0 1574.1L1849.0 1574.5L1851.0 1577.0L1853.0 1578.6L1855.0 1575.7L1857.0 1572.5L1859.0 1577.8L1861.0 1577.5L1863.0 1583.2L1865.0 1573.4L1867.0 1583.2L1869.0 1581.9L1871.0 1577.8L1873.0 1581.6L1875.0 1577.3L1877.0 1579.7L1879.0 1574.9L1881.0 1577.2L1883.0 1574.2L1885.0 1572.6L1887.0 1576.2L1889.0 1575.2L1891.0 1578.6L1893.0 1580.6L1895.0 1576.5L1897.0 1577.1L1899.0 1577.4L1901.0 1569.8L1903.0 1577.9L1905.0 1576.8L1907.0 1576.5L1909.0 1572.1L1911.0 1568.3L1913.0 1575.5L1915.0 1577.9L1917.0 1582.2L1919.0 1581.2L1921.0 1582.6L1923.0 1578.0L1925.0 1581.2L1927.0 1575.5L1929.0 1578.9L1931.0 1580.2L1933.0 1585.4L1935.0 1577.2L1937.0 1570.8L1939.0 1581.9L1941.0 1572.7L1943.0 1575.7L1945.0 1574.7L1947.0 1572.0L1949.0 1581.4L1951.0 1578.2L1953.0 1573.1L1955.0 1575.9L1957.0 1573.7L1959.0 1578.0L1961.0 1573.8L1963.0 1572.1L1965.0 1572.5L1967.0 1573.3L1969.0 1576.3L1971.0 1571.1L1973.0 1574.6L1975.0 1576.7L1977.0 1584.0L1979.0 1578.3L1981.0 1565.4L1983.0 1572.4L1985.0 1572.8L1987.0 1575.8L1989.0 1580.9L1991.0 1577.4L1993.0 1565.0L1995.0 1575.4L1997.0 1574.5L1999.0 1575.7L2001.0 1579.6L2003.0 1569.3L2005.0 1578.4L2007.0 1566.8L2009.0 1573.9L2011.0 1575.2L2013.0 1582.7L2015.0 1570.5L2017.0 1566.2L2019.0 1576.2L2021.0 1570.4L2023.0 1579.7L2025.0 1570.1L2027.0 1569.3L2029.0 1578.2L2031.0 1573.3L2033.0 1577.1L2035.0 1566.8L2037.0 1579.7L2039.0 1570.3L2041.0 1576.2L2043.0 1568.5L2045.0 1566.1L2047.0 1571.5L2049.0 1573.3L2051.0 1579.2L2053.0 1574.0L2055.0 1575.5L2057.0 1575.2L2059.0 1581.6L2061.0 1568.9L2063.0 1577.6L2065.0 1571.7L2067.0 1573.3L2069.0 1569.9L2071.0 1577.1L2073.0 1566.9L2075.0 1566.5L2077.0 1571.2L2079.0 1567.2L2080.0 1575.0L2081.0 1576.1L2083.0 1569.5L2085.0 1576.4L2087.0 1570.7L2089.0 1573.7L2091.0 1574.4L2093.0 1582.7L2095.0 1575.2L2097.0 1571.8L2099.0 1572.2L2101.0 1581.5L2103.0 1569.9L2105.0 1575.4L2107.0 1576.2L2108.0 1568.8L2109.0 1579.4L2111.0 1592.2L2113.0 1595.6L2114.0 1594.2L2115.0 1598.4L2117.0 1592.7L2119.0 1594.0L2121.0 1577.4L2122.0 1576.4L2123.0 1577.9L2125.0 1576.5L2127.0 1576.8L2129.0 1575.3L2131.0 1572.2L2133.0 1567.8L2135.0 1571.5L2137.0 1567.4L2139.0 1568.2L2141.0 1569.7L2143.0 1573.5L2145.0 1574.3L2147.0 1565.7L2149.0 1570.7L2151.0 1572.2L2153.0 1568.0L2155.0 1560.6L2157.0 1557.8L2159.0 1569.6L2160.0 1569.8L2161.0 1566.8L2163.0 1560.7L2165.0 1570.8L2167.0 1569.3L2169.0 1563.5L2171.0 1562.2L2173.0 1554.4L2175.0 1565.3L2177.0 1554.9L2179.0 1564.0L2181.0 1563.7L2183.0 1560.5L2184.0 1566.5L2185.0 1559.0L2187.0 1563.9L2189.0 1565.7L2191.0 1564.4L2193.0 1562.6L2195.0 1570.6L2197.0 1568.2L2199.0 1566.6L2200.0 1567.2L2201.0 1568.4L2203.0 1577.2L2205.0 1568.3L2207.0 1566.9L2209.0 1563.4L2211.0 1562.8L2213.0 1559.9L2215.0 1568.9L2217.0 1568.0L2219.0 1563.6L2221.0 1561.6L2223.0 1566.5L2225.0 1565.7L2227.0 1562.3L2229.0 1569.2L2231.0 1568.5L2233.0 1567.7L2235.0 1571.1L2237.0 1565.1L2239.0 1573.6L2241.0 1563.6L2243.0 1570.0L2245.0 1570.5L2247.0 1566.8L2249.0 1569.3L2250.0 1562.5"/>
<path stroke="#0000ff" stroke-width="6.4" d="M291.0 1600.9L293.0 1598.0L295.0 1599.8L297.0 1599.1L299.0 1599.2L301.0 1599.3L303.0 1598.1L305.0 1599.3L307.0 1598.9L309.0 1601.0L311.0 1599.7L313.0 1599.3L315.0 1599.3L317.0 1599.0L319.0 1598.8L321.0 1599.2L323.0 1599.8L325.0 1599.3L327.0 1600.2L329.0 1599.4L331.0 1599.5L333.0 1600.6L335.0 1599.9L337.0 1599.1L339.0 1599.4L341.0 1599.9L343.0 1600.9L345.0 1599.3L347.0 1599.3L349.0 1600.2L351.0 1598.9L353.0 1599.3L355.0 1600.1L357.0 1599.9L359.0 1599.6L361.0 1600.0L363.0 1598.0L365.0 1600.2L366.0 1598.8L367.0 1598.2L369.0 1599.3L371.0 1599.3L373.0 1598.3L375.0 1597.5L377.0 1598.1L379.0 1597.7L381.0 1598.5L383.0 1597.8L385.0 1597.1L387.0 1597.5L389.0 1596.3L391.0 1595.5L393.0 1596.3L395.0 1596.0L397.0 1595.2L399.0 1594.6L401.0 1595.0L403.0 1593.0L403.5 1595.0L405.0 1594.3L407.0 1592.2L409.0 1592.7L411.0 1591.3L413.0 1591.9L415.0 1589.3L417.0 1589.4L419.0 1589.9L421.0 1589.5L423.0 1586.5L425.0 1587.0L427.0 1586.9L429.0 1585.6L431.0 1586.5L433.0 1583.9L434.0 1584.6L435.0 1583.0L437.0 1583.4L439.0 1581.1L441.0 1579.5L443.0 1577.2L445.0 1578.2L447.0 1576.3L448.1 1575.5L449.0 1575.2L451.0 1573.2L453.0 1571.1L455.0 1569.6L457.0 1568.2L459.0 1568.4L461.0 1565.0L463.0 1564.2L465.0 1563.0L466.9 1562.1L467.0 1562.2L469.0 1559.2L471.0 1557.1L473.0 1556.6L475.0 1555.7L477.0 1553.7L479.0 1551.6L481.0 1549.5L483.0 1547.6L485.0 1545.0L487.0 1543.5L489.0 1540.1L491.0 1538.4L493.0 1536.0L495.0 1534.2L497.0 1532.4L499.0 1532.1L501.0 1531.1L503.0 1529.5L505.0 1522.9L507.0 1523.7L509.0 1521.7L509.1 1523.2L511.0 1517.8L513.0 1520.7L515.0 1518.9L517.0 1513.8L519.0 1512.5L521.0 1511.0L523.0 1510.4L523.1 1511.2L525.0 1511.5L527.0 1506.5L529.0 1506.1L531.0 1503.5L532.5 1504.4L533.0 1502.8L535.0 1503.3L537.0 1499.5L539.0 1500.3L541.0 1499.0L541.9 1502.1L543.0 1500.7L545.0 1498.9L547.0 1498.3L549.0 1499.2L551.0 1497.2L551.3 1496.8L553.0 1499.5L555.0 1502.7L557.0 1500.1L559.0 1500.5L561.0 1500.4L563.0 1501.0L565.0 1504.4L565.3 1505.0L567.0 1504.0L569.0 1504.7L571.0 1504.7L573.0 1505.0L575.0 1502.9L577.0 1504.7L579.0 1505.7L579.4 1504.5L581.0 1505.3L583.0 1505.2L585.0 1506.3L587.0 1508.3L589.0 1507.0L591.0 1507.7L593.0 1509.5L595.0 1509.7L597.0 1511.5L598.2 1506.5L599.0 1511.0L601.0 1510.1L603.0 1512.0L605.0 1513.9L607.0 1515.3L607.5 1515.5L609.0 1514.0L611.0 1515.8L613.0 1513.0L615.0 1512.9L616.0 1514.1L617.0 1512.3L619.0 1516.2L621.0 1514.7L623.0 1516.5L625.0 1513.5L627.0 1513.1L629.0 1514.0L631.0 1514.9L633.0 1513.2L635.0 1514.7L637.0 1514.2L639.0 1516.6L641.0 1513.6L643.0 1515.8L645.0 1513.3L647.0 1512.8L649.0 1513.0L651.0 1512.2L653.0 1513.9L655.0 1515.0L657.0 1513.7L659.0 1514.2L661.0 1515.5L663.0 1513.4L665.0 1513.2L667.0 1512.4L669.0 1510.4L671.0 1513.6L673.0 1509.9L675.0 1513.1L677.0 1512.1L678.5 1513.6L679.0 1511.8L681.0 1510.3L683.0 1511.6L685.0 1509.9L687.0 1510.0L689.0 1510.0L691.0 1509.3L693.0 1508.8L695.0 1507.5L697.0 1508.0L699.0 1504.9L701.0 1507.3L703.0 1505.4L703.5 1508.6L705.0 1508.6L707.0 1503.9L709.0 1506.6L711.0 1506.0L713.0 1504.4L715.0 1506.4L717.0 1504.8L719.0 1502.7L721.0 1504.6L723.0 1504.5L725.0 1504.6L727.0 1502.8L729.0 1505.4L731.0 1505.5L733.0 1502.9L735.0 1503.6L737.0 1504.4L739.0 1503.7L741.0 1506.9L743.0 1504.8L745.0 1503.1L747.0 1503.4L749.0 1504.4L750.0 1507.6L751.0 1504.4L753.0 1505.1L755.0 1506.0L757.0 1505.5L759.0 1508.9L761.0 1505.4L763.0 1507.5L765.0 1507.0L767.0 1507.9L769.0 1505.7L771.0 1510.1L773.0 1507.8L775.0 1508.3L777.0 1507.4L779.0 1508.2L781.0 1510.5L783.0 1511.6L785.0 1511.8L787.0 1512.9L789.0 1512.8L791.0 1512.3L793.0 1513.9L795.0 1514.1L797.0 1513.6L799.0 1515.3L801.0 1516.5L803.0 1515.6L805.0 1515.3L807.0 1516.8L809.0 1518.6L811.0 1515.7L813.0 1515.9L815.0 1515.9L817.0 1517.9L819.0 1513.7L821.0 1516.9L823.0 1518.1L825.0 1515.4L827.0 1518.7L829.0 1517.4L831.0 1516.0L833.0 1517.1L835.0 1514.8L837.0 1516.2L837.5 1519.6L839.0 1515.2L841.0 1518.3L843.0 1514.9L845.0 1515.7L847.0 1513.7L849.0 1509.8L851.0 1511.4L853.0 1511.7L855.0 1509.1L857.0 1508.9L859.0 1511.3L861.0 1509.8L863.0 1508.4L865.0 1509.8L867.0 1512.0L869.0 1510.1L871.0 1512.1L873.0 1512.9L875.0 1510.8L877.0 1509.2L879.0 1508.9L881.0 1510.7L883.0 1512.0L885.0 1511.1L887.0 1511.5L887.5 1510.1L889.0 1510.5L891.0 1508.6L893.0 1507.9L895.0 1505.7L897.0 1504.5L899.0 1505.1L901.0 1503.4L903.0 1502.8L905.0 1504.2L907.0 1504.1L909.0 1508.3L911.0 1507.5L913.0 1506.4L915.0 1509.3L917.0 1507.7L919.0 1505.3L921.0 1506.8L923.0 1503.2L925.0 1500.2L927.0 1503.4L929.0 1500.4L931.0 1502.3L933.0 1498.3L935.0 1496.6L937.0 1500.7L939.0 1497.2L941.0 1499.3L943.0 1501.3L945.0 1499.7L947.0 1499.6L949.0 1500.1L951.0 1501.4L953.0 1499.4L955.0 1501.6L957.0 1501.0L959.0 1502.7L961.0 1498.6L963.0 1497.3L965.0 1499.1L967.0 1496.9L969.0 1497.3L971.0 1496.6L973.0 1497.5L975.0 1494.4L977.0 1494.6L979.0 1491.1L981.0 1492.4L982.5 1495.4L983.0 1492.3L985.0 1492.3L987.0 1491.5L989.0 1494.1L991.0 1493.5L993.0 1491.6L995.0 1494.2L997.0 1493.6L999.0 1494.3L1001.0 1492.4L1002.5 1495.7L1003.0 1493.9L1005.0 1493.3L1007.0 1492.9L1009.0 1493.5L1011.0 1495.2L1013.0 1493.8L1015.0 1495.9L1017.0 1495.4L1019.0 1496.6L1021.0 1496.1L1023.0 1495.0L1025.0 1492.6L1027.0 1495.9L1029.0 1496.8L1030.0 1496.0L1031.0 1497.2L1033.0 1497.0L1035.0 1498.3L1037.0 1498.8L1039.0 1503.3L1040.0 1502.2L1041.0 1501.2L1043.0 1499.9L1045.0 1501.4L1047.0 1503.5L1049.0 1502.0L1051.0 1500.1L1053.0 1503.0L1055.0 1502.8L1057.0 1502.1L1059.0 1501.6L1061.0 1502.0L1063.0 1501.0L1065.0 1501.2L1067.0 1498.8L1069.0 1501.9L1071.0 1499.9L1072.5 1502.3L1073.0 1496.8L1075.0 1501.5L1077.0 1502.7L1079.0 1501.7L1081.0 1503.7L1083.0 1504.9L1085.0 1505.5L1087.0 1504.8L1087.5 1505.6L1089.0 1506.7L1091.0 1506.5L1093.0 1504.3L1095.0 1503.7L1097.0 1503.3L1099.0 1503.9L1101.0 1500.4L1103.0 1499.5L1105.0 1500.9L1107.0 1500.0L1109.0 1501.4L1111.0 1503.1L1113.0 1504.4L1115.0 1503.0L1117.0 1506.4L1119.0 1503.5L1121.0 1507.5L1123.0 1505.3L1125.0 1506.5L1127.0 1509.7L1129.0 1508.9L1131.0 1508.9L1133.0 1510.0L1135.0 1511.9L1137.0 1511.8L1139.0 1512.4L1141.0 1514.5L1143.0 1512.6L1145.0 1513.6L1147.0 1514.1L1149.0 1517.1L1150.0 1517.1L1151.0 1517.3L1153.0 1514.9L1155.0 1514.1L1157.0 1515.0L1159.0 1512.7L1161.0 1514.6L1163.0 1514.6L1165.0 1512.8L1167.0 1513.8L1169.0 1513.9L1171.0 1516.7L1173.0 1517.5L1174.0 1514.4L1175.0 1515.0L1177.0 1512.9L1179.0 1517.3L1181.0 1518.0L1183.0 1517.5L1185.0 1521.1L1187.0 1518.8L1189.0 1521.7L1191.0 1521.9L1193.0 1519.6L1195.0 1522.2L1197.0 1522.1L1199.0 1518.4L1201.0 1518.0L1203.0 1520.5L1204.0 1519.5L1205.0 1518.3L1207.0 1520.6L1209.0 1521.8L1211.0 1522.8L1213.0 1525.2L1215.0 1525.5L1217.0 1528.5L1219.0 1528.9L1221.0 1528.3L1223.0 1529.2L1225.0 1529.9L1227.0 1529.3L1229.0 1527.0L1231.0 1530.2L1233.0 1529.4L1234.0 1531.8L1235.0 1529.9L1237.0 1531.1L1239.0 1531.5L1241.0 1534.0L1243.0 1532.4L1245.0 1532.4L1247.0 1533.8L1249.0 1533.4L1251.0 1534.8L1253.0 1535.2L1255.0 1536.2L1257.0 1539.1L1259.0 1536.4L1261.0 1537.5L1263.0 1537.5L1265.0 1539.1L1267.0 1536.9L1269.0 1538.0L1271.0 1539.3L1273.0 1540.6L1275.0 1540.1L1277.0 1539.9L1279.0 1539.8L1281.0 1542.1L1283.0 1543.8L1284.0 1542.5L1285.0 1542.5L1287.0 1543.2L1289.0 1541.7L1291.0 1543.0L1293.0 1543.4L1295.0 1544.6L1297.0 1544.6L1299.0 1543.3L1301.0 1547.0L1303.0 1548.2L1305.0 1545.8L1307.0 1547.2L1309.0 1547.4L1311.0 1548.1L1313.0 1544.9L1315.0 1549.3L1317.0 1546.3L1319.0 1548.8L1321.0 1547.1L1323.0 1546.5L1325.0 1546.8L1327.0 1548.3L1329.0 1545.8L1331.0 1546.5L1333.0 1546.3L1334.0 1544.6L1335.0 1549.3L1337.0 1549.3L1339.0 1549.5L1341.0 1552.1L1343.0 1550.2L1345.0 1552.4L1347.0 1555.9L1349.0 1555.9L1351.0 1551.6L1353.0 1551.9L1355.0 1553.7L1357.0 1556.9L1359.0 1554.9L1361.0 1555.5L1363.0 1556.9L1365.0 1555.0L1367.0 1556.8L1369.0 1557.8L1371.0 1557.6L1371.5 1557.6L1373.0 1556.5L1375.0 1558.4L1377.0 1557.5L1379.0 1560.3L1381.0 1562.0L1383.0 1558.3L1385.0 1556.7L1387.0 1559.5L1389.0 1561.0L1391.0 1562.4L1393.0 1562.8L1395.0 1560.6L1396.5 1560.9L1397.0 1563.8L1399.0 1560.5L1401.0 1563.5L1403.0 1561.7L1405.0 1563.1L1407.0 1563.0L1409.0 1563.1L1411.0 1563.1L1413.0 1560.6L1415.0 1562.4L1417.0 1562.0L1419.0 1562.4L1421.0 1563.7L1421.5 1561.6L1423.0 1561.2L1425.0 1561.3L1427.0 1562.1L1429.0 1563.8L1431.0 1561.8L1433.0 1564.8L1435.0 1563.8L1437.0 1563.2L1439.0 1561.9L1441.0 1564.3L1443.0 1565.1L1445.0 1561.9L1446.5 1566.2L1447.0 1566.9L1449.0 1565.3L1451.0 1565.9L1453.0 1568.6L1455.0 1567.5L1457.0 1564.8L1459.0 1566.4L1461.0 1566.5L1463.0 1566.8L1465.0 1564.2L1467.0 1568.6L1469.0 1567.0L1471.0 1568.4L1471.5 1568.1L1473.0 1569.7L1475.0 1568.4L1477.0 1568.0L1479.0 1570.1L1481.0 1571.6L1483.0 1569.5L1485.0 1572.2L1487.0 1570.9L1489.0 1570.1L1491.0 1573.3L1493.0 1570.3L1495.0 1573.2L1496.5 1571.3L1497.0 1572.7L1499.0 1570.5L1501.0 1571.3L1503.0 1574.1L1505.0 1573.1L1507.0 1573.1L1509.0 1572.6L1511.0 1574.1L1513.0 1571.7L1515.0 1572.3L1517.0 1573.8L1519.0 1573.1L1521.0 1573.5L1521.5 1574.4L1523.0 1574.5L1525.0 1574.5L1527.0 1577.4L1529.0 1576.7L1531.0 1577.2L1533.0 1575.6L1535.0 1575.1L1537.0 1574.0L1539.0 1575.8L1541.0 1573.5L1543.0 1575.8L1545.0 1577.9L1546.5 1579.3L1547.0 1578.4L1549.0 1575.9L1551.0 1577.9L1553.0 1576.2L1555.0 1578.6L1557.0 1577.4L1559.0 1578.8L1561.0 1580.8L1563.0 1579.1L1565.0 1581.0L1567.0 1578.3L1569.0 1577.7L1571.0 1580.1L1571.5 1580.7L1573.0 1577.6L1575.0 1578.6L1577.0 1576.6L1579.0 1578.4L1581.0 1580.0L1583.0 1578.8L1585.0 1578.2L1587.0 1577.2L1589.0 1579.8L1591.0 1580.5L1593.0 1580.3L1595.0 1580.1L1597.0 1578.1L1599.0 1582.6L1601.0 1580.2L1603.0 1580.1L1605.0 1582.6L1607.0 1575.3L1609.0 1580.9L1611.0 1580.9L1613.0 1582.5L1615.0 1585.2L1617.0 1583.1L1619.0 1577.3L1621.0 1581.4L1623.0 1583.0L1625.0 1583.1L1627.0 1579.6L1629.0 1578.8L1631.0 1584.7L1633.0 1584.4L1635.0 1583.6L1637.0 1579.4L1639.0 1588.7L1641.0 1578.6L1643.0 1583.6L1645.0 1590.1L1647.0 1584.5L1649.0 1585.7L1651.0 1582.2L1653.0 1589.0L1655.0 1582.3L1657.0 1586.6L1659.0 1586.5L1661.0 1583.6L1663.0 1588.8L1665.0 1583.0L1667.0 1585.1L1668.0 1586.9L1669.0 1586.0L1671.0 1588.3L1673.0 1589.6L1675.0 1586.5L1677.0 1585.9L1679.0 1586.0L1681.0 1586.5L1683.0 1589.6L1685.0 1587.0L1687.0 1588.7L1689.0 1587.5L1691.0 1585.6L1693.0 1590.1L1695.0 1585.2L1697.0 1588.0L1699.0 1591.9L1701.0 1585.3L1703.0 1588.0L1705.0 1584.1L1707.0 1587.0L1709.0 1584.5L1711.0 1587.5L1713.0 1587.1L1715.0 1588.9L1717.0 1592.8L1719.0 1589.4L1721.0 1590.5L1723.0 1588.7L1725.0 1588.3L1727.0 1586.8L1729.0 1584.4L1731.0 1589.3L1733.0 1593.4L1735.0 1590.5L1737.0 1587.9L1739.0 1593.7L1741.0 1588.3L1743.0 1587.9L1745.0 1586.3L1747.0 1587.0L1749.0 1588.9L1751.0 1594.7L1753.0 1589.0L1755.0 1586.8L1757.0 1587.9L1759.0 1588.9L1761.0 1585.0L1763.0 1589.8L1765.0 1591.3L1767.0 1590.3L1769.0 1591.1L1771.0 1586.1L1773.0 1585.1L1775.0 1592.8L1777.0 1592.3L1779.0 1585.5L1781.0 1590.0L1783.0 1589.6L1785.0 1590.9L1787.0 1590.0L1789.0 1588.2L1791.0 1590.0L1793.0 1589.9L1795.0 1589.4L1797.0 1584.7L1799.0 1583.8L1801.0 1587.4L1803.0 1585.2L1805.0 1590.2L1807.0 1591.4L1809.0 1590.2L1811.0 1588.5L1813.0 1589.7L1815.0 1592.5L1817.0 1587.6L1819.0 1591.9L1821.0 1591.3L1823.0 1590.2L1825.0 1593.3L1827.0 1587.6L1829.0 1592.0L1831.0 1587.1L1833.0 1587.5L1835.0 1586.7L1837.0 1590.7L1839.0 1587.1L1841.0 1589.6L1843.0 1586.5L1845.0 1592.2L1847.0 1594.2L1849.0 1589.9L1851.0 1593.6L1853.0 1590.7L1855.0 1594.8L1857.0 1589.4L1859.0 1585.0L1861.0 1592.9L1863.0 1588.7L1865.0 1586.3L1867.0 1587.2L1869.0 1584.6L1871.0 1588.4L1873.0 1586.0L1875.0 1592.6L1877.0 1590.4L1879.0 1584.3L1881.0 1584.6L1883.0 1587.0L1885.0 1583.4L1887.0 1588.1L1889.0 1588.2L1891.0 1586.3L1893.0 1586.8L1895.0 1589.5L1897.0 1591.8L1899.0 1592.0L1901.0 1588.2L1903.0 1591.4L1905.0 1585.0L1907.0 1589.5L1909.0 1584.0L1911.0 1590.7L1913.0 1582.8L1915.0 1583.8L1917.0 1587.6L1919.0 1589.8L1921.0 1581.8L1923.0 1585.4L1925.0 1588.0L1927.0 1588.3L1929.0 1584.0L1931.0 1587.7L1933.0 1586.2L1935.0 1592.8L1937.0 1589.4L1939.0 1581.8L1941.0 1578.2L1943.0 1587.4L1945.0 1591.6L1947.0 1587.5L1949.0 1590.2L1951.0 1584.6L1953.0 1580.9L1955.0 1589.3L1957.0 1586.6L1959.0 1588.8L1961.0 1580.4L1963.0 1586.5L1965.0 1583.2L1967.0 1588.8L1969.0 1583.1L1971.0 1582.9L1973.0 1582.9L1975.0 1590.2L1977.0 1585.1L1979.0 1581.8L1981.0 1580.6L1983.0 1580.4L1985.0 1590.4L1987.0 1577.1L1989.0 1580.9L1991.0 1586.7L1993.0 1588.7L1995.0 1583.3L1997.0 1586.9L1999.0 1586.7L2001.0 1587.5L2003.0 1583.6L2005.0 1589.9L2007.0 1584.1L2009.0 1589.3L2011.0 1578.6L2013.0 1586.7L2015.0 1577.8L2017.0 1576.7L2019.0 1584.6L2021.0 1579.2L2023.0 1584.1L2025.0 1578.0L2027.0 1588.6L2029.0 1582.2L2031.0 1577.7L2033.0 1582.9L2035.0 1585.8L2037.0 1579.2L2039.0 1584.4L2041.0 1590.6L2043.0 1585.9L2045.0 1582.4L2047.0 1580.2L2049.0 1584.8L2051.0 1576.5L2053.0 1573.6L2055.0 1579.9L2057.0 1578.3L2059.0 1589.6L2061.0 1583.2L2063.0 1578.8L2065.0 1578.1L2067.0 1584.8L2069.0 1579.5L2071.0 1580.5L2073.0 1582.5L2075.0 1583.3L2077.0 1583.3L2079.0 1583.4L2081.0 1588.2L2083.0 1589.8L2085.0 1576.5L2087.0 1591.6L2089.0 1583.6L2091.0 1588.1L2093.0 1580.2L2095.0 1584.5L2097.0 1584.1L2099.0 1583.7L2100.0 1586.7L2101.0 1585.8L2103.0 1579.1L2105.0 1582.5L2107.0 1585.8L2109.0 1585.5L2111.0 1581.3L2113.0 1581.4L2115.0 1581.7L2117.0 1577.8L2119.0 1577.0L2121.0 1588.3L2123.0 1580.3L2125.0 1582.1L2127.0 1578.6L2129.0 1586.7L2131.0 1588.4L2133.0 1580.4L2135.0 1583.2L2137.0 1578.0L2139.0 1587.9L2141.0 1584.4L2143.0 1577.3L2145.0 1585.5L2147.0 1581.8L2149.0 1581.9L2151.0 1581.5L2153.0 1577.3L2155.0 1577.7L2157.0 1582.2L2159.0 1579.4L2161.0 1575.7L2163.0 1587.5L2165.0 1578.4L2167.0 1576.9L2169.0 1576.2L2171.0 1581.6L2173.0 1582.6L2175.0 1579.6L2177.0 1581.9L2179.0 1572.3L2180.0 1576.8L2181.0 1576.1L2183.0 1577.5L2185.0 1579.0L2187.0 1568.4L2189.0 1584.5L2191.0 1572.0L2193.0 1576.4L2195.0 1577.8L2197.0 1577.4L2199.0 1574.5L2201.0 1564.0L2203.0 1568.1L2205.0 1575.0L2207.0 1567.8L2209.0 1566.7L2211.0 1561.5L2213.0 1574.8L2215.0 1571.5L2217.0 1565.4L2219.0 1567.9L2220.0 1567.8L2221.0 1562.8L2223.0 1564.4L2225.0 1564.8L2227.0 1564.2L2229.0 1565.4L2231.0 1558.7L2233.0 1555.0L2235.0 1556.7L2237.0 1550.8L2239.0 1546.6L2241.0 1554.4L2243.0 1546.6L2245.0 1552.0L2247.0 1557.5L2249.0 1553.9L2250.0 1562.6"/>
<path stroke="#ff00ff" stroke-width="6.4" d="M291.0 1601.5L293.0 1601.9L295.0 1603.2L297.0 1602.5L299.0 1600.9L301.0 1602.0L303.0 1601.6L305.0 1602.1L307.0 1600.9L309.0 1602.2L311.0 1602.2L313.0 1603.1L315.0 1602.2L317.0 1602.4L319.0 1601.0L321.0 1603.5L323.0 1600.7L325.0 1602.8L327.0 1601.8L329.0 1601.4L331.0 1601.5L333.0 1601.5L335.0 1602.3L337.0 1601.9L339.0 1603.0L341.0 1600.7L343.0 1602.0L345.0 1601.4L347.0 1602.5L349.0 1600.5L351.0 1601.8L353.0 1602.1L355.0 1601.0L357.0 1602.7L359.0 1602.1L361.0 1602.7L363.0 1602.7L365.0 1601.3L367.0 1601.4L369.0 1601.9L371.0 1602.5L373.0 1602.6L375.0 1601.5L377.0 1601.6L379.0 1601.4L381.0 1601.6L383.0 1601.8L385.0 1601.9L387.0 1603.4L389.0 1601.6L391.0 1601.8L393.0 1601.9L395.0 1600.5L397.0 1600.5L399.0 1600.4L401.0 1600.5L403.0 1598.7L405.0 1600.2L407.0 1598.6L409.0 1598.5L411.0 1598.6L413.0 1598.1L415.0 1597.9L416.0 1597.1L417.0 1596.6L419.0 1596.1L421.0 1594.4L423.0 1595.1L425.0 1593.0L427.0 1591.8L429.0 1593.4L431.0 1591.1L433.0 1589.6L434.0 1591.3L435.0 1589.0L437.0 1588.3L439.0 1585.4L441.0 1584.2L443.0 1581.6L443.4 1581.2L445.0 1580.5L447.0 1579.5L449.0 1578.5L451.0 1577.8L453.0 1573.9L455.0 1573.7L457.0 1571.0L459.0 1569.8L461.0 1567.3L463.0 1565.8L465.0 1564.7L466.9 1563.0L467.0 1563.7L469.0 1561.3L471.0 1560.8L473.0 1558.2L475.0 1556.3L476.3 1555.8L477.0 1554.8L479.0 1552.8L481.0 1551.2L483.0 1549.5L485.0 1548.8L487.0 1547.0L489.0 1545.2L491.0 1543.9L493.0 1541.5L495.0 1540.7L497.0 1537.1L499.0 1536.9L501.0 1533.9L503.0 1531.8L504.4 1530.9L505.0 1529.4L507.0 1527.3L509.0 1527.7L511.0 1524.3L513.0 1520.9L513.8 1522.3L515.0 1517.9L517.0 1521.1L519.0 1516.5L521.0 1514.9L523.0 1516.3L525.0 1514.7L527.0 1510.1L529.0 1509.3L531.0 1508.4L532.5 1508.1L533.0 1505.2L535.0 1504.8L537.0 1505.6L539.0 1503.3L541.0 1503.2L543.0 1502.2L545.0 1498.8L547.0 1498.4L549.0 1495.5L551.0 1497.6L553.0 1499.6L555.0 1495.6L557.0 1498.7L559.0 1498.0L561.0 1496.0L563.0 1495.7L565.0 1495.5L567.0 1493.7L569.0 1494.2L570.0 1494.3L571.0 1495.4L573.0 1495.9L575.0 1493.8L577.0 1496.4L579.0 1494.2L581.0 1495.3L583.0 1496.3L585.0 1496.0L587.0 1496.2L589.0 1497.2L591.0 1496.4L593.0 1496.6L595.0 1497.7L597.0 1499.8L599.0 1498.6L600.0 1501.9L601.0 1499.6L603.0 1496.5L605.0 1499.6L607.0 1503.2L609.0 1501.3L611.0 1501.1L613.0 1500.9L615.0 1504.7L616.0 1504.5L617.0 1504.0L619.0 1503.5L621.0 1505.0L623.0 1504.0L625.0 1500.8L627.0 1503.7L629.0 1502.7L631.0 1502.2L633.0 1503.5L635.0 1502.3L637.0 1498.9L639.0 1504.4L641.0 1503.6L643.0 1501.5L645.0 1500.8L647.0 1501.4L649.0 1498.8L651.0 1500.9L653.0 1499.7L655.0 1499.2L657.0 1498.1L659.0 1498.1L661.0 1500.5L663.0 1500.5L665.0 1498.9L666.0 1497.9L667.0 1496.4L669.0 1498.4L671.0 1499.2L673.0 1493.9L675.0 1497.6L677.0 1492.1L679.0 1494.4L681.0 1495.0L683.0 1491.9L685.0 1491.2L687.0 1493.2L689.0 1493.8L691.0 1491.3L693.0 1492.8L695.0 1488.4L697.0 1491.0L699.0 1487.4L701.0 1486.4L703.0 1485.7L703.5 1485.0L705.0 1487.0L707.0 1487.2L709.0 1484.4L711.0 1482.9L713.0 1481.1L715.0 1481.4L717.0 1482.2L719.0 1481.6L721.0 1481.4L723.0 1481.1L725.0 1481.5L727.0 1478.3L729.0 1478.4L731.0 1481.2L733.0 1480.4L735.0 1477.9L737.0 1480.3L739.0 1476.9L741.0 1477.2L743.0 1474.4L745.0 1478.0L747.0 1476.3L749.0 1477.6L750.0 1476.8L751.0 1475.6L753.0 1475.1L755.0 1476.1L757.0 1473.5L759.0 1473.0L761.0 1472.7L763.0 1473.3L765.0 1472.9L767.0 1473.8L767.5 1470.7L769.0 1473.4L771.0 1471.6L773.0 1474.5L775.0 1474.7L777.0 1478.2L779.0 1477.5L780.0 1476.4L781.0 1477.6L783.0 1476.5L785.0 1474.7L787.0 1474.0L789.0 1472.3L791.0 1476.2L793.0 1472.4L795.0 1472.9L797.0 1468.9L799.0 1468.3L800.0 1469.3L801.0 1469.9L803.0 1472.3L805.0 1470.6L807.0 1473.9L809.0 1476.3L811.0 1473.7L813.0 1477.4L815.0 1475.6L817.0 1476.5L819.0 1475.3L821.0 1476.3L823.0 1471.5L825.0 1471.6L827.0 1471.8L829.0 1467.3L831.0 1467.9L832.5 1465.8L833.0 1465.9L835.0 1467.3L837.0 1466.6L839.0 1468.1L841.0 1466.3L843.0 1465.5L845.0 1462.7L847.0 1461.8L849.0 1461.8L851.0 1457.5L853.0 1462.7L855.0 1458.6L857.0 1460.3L859.0 1463.5L861.0 1467.9L862.5 1470.2L863.0 1467.3L865.0 1466.7L867.0 1464.2L869.0 1461.0L871.0 1460.9L873.0 1458.9L875.0 1454.7L877.0 1458.7L879.0 1454.7L881.0 1457.4L883.0 1455.5L885.0 1455.8L887.0 1456.0L889.0 1458.1L891.0 1455.2L893.0 1456.7L895.0 1459.4L897.0 1454.2L899.0 1453.4L901.0 1452.6L903.0 1449.0L905.0 1448.7L907.0 1445.2L907.5 1446.8L909.0 1445.3L911.0 1443.1L913.0 1445.9L915.0 1443.0L917.0 1442.0L919.0 1440.3L921.0 1440.2L923.0 1440.1L925.0 1439.8L927.0 1441.2L929.0 1437.5L931.0 1439.0L933.0 1441.3L935.0 1439.8L937.0 1440.1L939.0 1441.9L941.0 1440.0L943.0 1440.2L945.0 1439.5L947.0 1442.3L949.0 1441.3L951.0 1438.8L953.0 1440.8L955.0 1438.4L957.0 1441.9L959.0 1441.4L961.0 1440.3L963.0 1440.0L965.0 1438.1L967.0 1443.4L969.0 1443.6L971.0 1444.8L973.0 1447.8L975.0 1447.3L977.0 1445.7L979.0 1443.9L981.0 1441.2L983.0 1444.9L985.0 1439.6L987.0 1437.7L989.0 1437.9L990.0 1432.5L991.0 1436.7L993.0 1438.8L995.0 1439.3L997.0 1443.4L999.0 1441.7L1000.0 1445.7L1001.0 1447.2L1003.0 1442.9L1005.0 1444.3L1007.0 1446.5L1009.0 1447.0L1011.0 1446.3L1013.0 1448.1L1015.0 1448.2L1017.0 1446.1L1019.0 1448.3L1021.0 1446.8L1023.0 1445.9L1025.0 1446.2L1027.0 1452.0L1029.0 1451.4L1031.0 1455.7L1033.0 1451.7L1035.0 1454.5L1037.0 1456.8L1039.0 1457.2L1040.0 1458.7L1041.0 1458.1L1043.0 1456.6L1045.0 1454.2L1047.0 1455.6L1049.0 1459.3L1051.0 1457.6L1053.0 1458.2L1055.0 1455.0L1057.0 1455.3L1057.5 1454.2L1059.0 1456.1L1061.0 1455.6L1063.0 1456.2L1065.0 1458.2L1067.0 1454.3L1069.0 1456.7L1071.0 1453.5L1073.0 1457.2L1075.0 1454.9L1077.0 1456.9L1079.0 1458.6L1081.0 1462.2L1083.0 1461.1L1085.0 1461.8L1087.0 1462.2L1087.5 1464.7L1089.0 1463.8L1091.0 1465.3L1093.0 1467.0L1095.0 1469.1L1097.0 1468.0L1099.0 1471.1L1101.0 1473.7L1103.0 1469.8L1105.0 1475.1L1107.0 1476.3L1109.0 1472.2L1111.0 1474.0L1113.0 1471.0L1115.0 1473.6L1117.0 1472.6L1119.0 1473.5L1121.0 1471.7L1123.0 1471.8L1125.0 1472.4L1127.0 1473.1L1129.0 1474.4L1131.0 1476.1L1133.0 1475.9L1135.0 1478.4L1137.0 1480.5L1139.0 1477.8L1141.0 1482.3L1143.0 1482.0L1145.0 1482.6L1147.0 1483.5L1149.0 1485.5L1151.0 1486.9L1153.0 1489.8L1155.0 1488.6L1157.0 1493.3L1159.0 1491.8L1161.0 1493.9L1163.0 1494.3L1165.0 1490.7L1167.0 1494.0L1169.0 1495.5L1171.0 1491.4L1173.0 1492.8L1174.0 1491.6L1175.0 1492.7L1177.0 1493.8L1179.0 1494.9L1181.0 1498.2L1183.0 1500.0L1184.0 1499.4L1185.0 1501.8L1187.0 1501.4L1189.0 1501.0L1191.0 1499.1L1193.0 1503.2L1195.0 1502.5L1197.0 1497.5L1199.0 1499.3L1201.0 1500.5L1203.0 1502.8L1205.0 1503.4L1207.0 1501.3L1209.0 1502.4L1211.0 1504.4L1213.0 1502.7L1215.0 1506.9L1217.0 1506.9L1219.0 1508.9L1221.0 1509.9L1223.0 1509.6L1224.0 1510.5L1225.0 1511.9L1227.0 1511.8L1229.0 1511.0L1231.0 1512.7L1233.0 1510.3L1234.0 1508.9L1235.0 1510.6L1237.0 1511.5L1239.0 1512.3L1241.0 1514.9L1243.0 1514.7L1245.0 1516.2L1247.0 1516.2L1249.0 1515.8L1251.0 1518.3L1253.0 1517.0L1255.0 1518.5L1257.0 1517.3L1259.0 1519.7L1261.0 1519.4L1263.0 1520.9L1265.0 1523.4L1267.0 1524.4L1269.0 1523.0L1271.0 1521.9L1273.0 1523.5L1275.0 1523.1L1277.0 1522.2L1279.0 1523.4L1281.0 1523.5L1283.0 1523.4L1284.0 1526.6L1285.0 1524.2L1287.0 1525.3L1289.0 1528.1L1291.0 1527.0L1293.0 1527.3L1295.0 1528.7L1296.5 1531.5L1297.0 1531.4L1299.0 1531.6L1301.0 1530.7L1303.0 1530.4L1305.0 1533.4L1307.0 1530.2L1309.0 1532.3L1311.0 1531.0L1313.0 1532.6L1315.0 1533.3L1317.0 1535.7L1319.0 1530.8L1321.0 1536.5L1321.5 1533.2L1323.0 1535.3L1325.0 1536.4L1327.0 1534.5L1329.0 1535.9L1331.0 1537.2L1333.0 1536.6L1335.0 1536.1L1337.0 1537.9L1339.0 1538.2L1341.0 1536.2L1343.0 1540.9L1345.0 1539.6L1346.5 1536.2L1347.0 1538.4L1349.0 1542.6L1351.0 1542.8L1353.0 1541.3L1355.0 1538.7L1357.0 1541.3L1359.0 1543.6L1361.0 1543.0L1363.0 1542.4L1365.0 1542.2L1367.0 1544.9L1369.0 1543.7L1371.0 1544.9L1371.5 1545.3L1373.0 1547.2L1375.0 1545.2L1377.0 1545.5L1379.0 1542.6L1381.0 1547.2L1383.0 1547.0L1385.0 1545.9L1387.0 1542.8L1389.0 1545.5L1391.0 1546.6L1393.0 1549.9L1395.0 1547.8L1396.5 1548.3L1397.0 1548.4L1399.0 1549.6L1401.0 1546.3L1403.0 1547.1L1405.0 1547.0L1407.0 1548.7L1409.0 1549.0L1411.0 1550.1L1413.0 1548.8L1415.0 1550.9L1417.0 1549.9L1419.0 1554.7L1421.0 1551.2L1421.5 1555.3L1423.0 1554.8L1425.0 1550.9L1427.0 1554.6L1429.0 1554.5L1431.0 1551.6L1433.0 1555.3L1435.0 1554.6L1437.0 1555.7L1439.0 1554.3L1441.0 1555.9L1443.0 1557.0L1445.0 1556.5L1446.5 1556.1L1447.0 1556.9L1449.0 1555.8L1451.0 1558.0L1453.0 1554.4L1455.0 1560.2L1457.0 1558.2L1459.0 1559.0L1461.0 1559.8L1463.0 1556.8L1465.0 1562.1L1467.0 1557.4L1469.0 1560.0L1471.0 1560.0L1471.5 1561.5L1473.0 1559.7L1475.0 1557.9L1477.0 1560.8L1479.0 1557.3L1481.0 1560.7L1483.0 1560.6L1485.0 1563.9L1487.0 1561.4L1489.0 1561.5L1491.0 1561.3L1493.0 1561.5L1495.0 1562.2L1496.5 1564.2L1497.0 1561.4L1499.0 1563.3L1501.0 1561.7L1503.0 1564.0L1505.0 1564.8L1507.0 1563.0L1509.0 1564.3L1511.0 1565.6L1513.0 1566.9L1515.0 1567.5L1517.0 1566.2L1519.0 1565.1L1521.0 1564.5L1521.5 1568.2L1523.0 1569.4L1525.0 1568.3L1527.0 1570.5L1529.0 1567.8L1531.0 1568.3L1533.0 1571.7L1535.0 1568.2L1537.0 1571.0L1539.0 1571.1L1541.0 1571.1L1543.0 1573.9L1545.0 1570.4L1546.5 1571.4L1547.0 1568.9L1549.0 1570.7L1551.0 1571.7L1553.0 1572.1L1555.0 1572.5L1557.0 1573.5L1559.0 1572.2L1561.0 1570.5L1563.0 1573.9L1565.0 1574.5L1567.0 1572.3L1569.0 1573.1L1571.0 1577.1L1571.5 1576.0L1573.0 1576.3L1575.0 1575.9L1577.0 1575.4L1579.0 1574.6L1581.0 1576.5L1583.0 1575.5L1585.0 1575.4L1587.0 1576.3L1589.0 1576.4L1591.0 1578.1L1593.0 1575.6L1595.0 1580.5L1597.0 1575.9L1599.0 1577.0L1601.0 1580.6L1603.0 1575.5L1605.0 1576.7L1607.0 1578.5L1609.0 1572.0L1611.0 1577.3L1613.0 1576.1L1615.0 1578.5L1617.0 1580.9L1619.0 1581.5L1621.0 1584.3L1623.0 1584.4L1625.0 1583.3L1627.0 1580.3L1629.0 1583.8L1631.0 1577.8L1633.0 1580.7L1635.0 1585.6L1637.0 1583.8L1639.0 1577.4L1641.0 1580.0L1643.0 1584.7L1645.0 1583.9L1647.0 1585.4L1649.0 1576.9L1651.0 1578.5L1653.0 1581.6L1655.0 1579.5L1657.0 1582.4L1659.0 1582.6L1661.0 1583.7L1663.0 1582.3L1665.0 1584.5L1667.0 1585.2L1669.0 1583.4L1671.0 1579.3L1673.0 1587.0L1675.0 1583.8L1677.0 1584.5L1679.0 1583.8L1681.0 1578.5L1683.0 1585.1L1685.0 1581.5L1687.0 1579.8L1689.0 1587.5L1691.0 1582.7L1693.0 1584.6L1695.0 1586.5L1697.0 1588.7L1699.0 1578.4L1701.0 1581.7L1703.0 1586.1L1705.0 1582.1L1707.0 1577.5L1709.0 1584.7L1711.0 1585.0L1713.0 1586.8L1715.0 1585.1L1717.0 1583.2L1718.0 1585.2L1719.0 1584.5L1721.0 1583.2L1723.0 1585.6L1725.0 1586.0L1727.0 1581.9L1729.0 1588.2L1731.0 1587.7L1733.0 1587.7L1735.0 1578.8L1737.0 1585.9L1739.0 1585.2L1741.0 1582.7L1743.0 1587.6L1745.0 1581.4L1747.0 1589.7L1749.0 1587.3L1751.0 1584.7L1753.0 1590.6L1755.0 1587.8L1757.0 1587.5L1759.0 1582.7L1761.0 1588.3L1763.0 1591.0L1765.0 1590.2L1767.0 1583.1L1769.0 1591.3L1771.0 1592.0L1773.0 1589.8L1775.0 1586.2L1777.0 1582.9L1779.0 1584.8L1781.0 1585.9L1783.0 1588.6L1785.0 1589.5L1787.0 1585.7L1789.0 1583.1L1791.0 1586.9L1793.0 1584.2L1795.0 1592.3L1797.0 1584.5L1799.0 1589.7L1801.0 1590.8L1803.0 1585.4L1805.0 1591.4L1807.0 1588.0L1809.0 1586.0L1811.0 1585.6L1813.0 1588.8L1815.0 1591.7L1817.0 1582.8L1819.0 1590.4L1821.0 1588.1L1823.0 1586.3L1825.0 1588.3L1827.0 1588.6L1829.0 1588.5L1831.0 1591.2L1833.0 1586.0L1835.0 1594.8L1837.0 1591.6L1839.0 1587.1L1841.0 1583.1L1843.0 1588.9L1845.0 1587.8L1847.0 1591.3L1849.0 1591.3L1851.0 1594.9L1853.0 1588.8L1855.0 1591.6L1857.0 1588.0L1859.0 1588.2L1861.0 1594.0L1863.0 1588.9L1865.0 1589.1L1867.0 1588.4L1868.0 1590.4L1869.0 1591.3L1871.0 1589.1L1873.0 1586.0L1875.0 1590.5L1877.0 1587.0L1879.0 1588.4L1881.0 1590.1L1883.0 1590.3L1885.0 1582.9L1887.0 1594.7L1889.0 1591.9L1891.0 1595.4L1893.0 1596.1L1895.0 1586.7L1897.0 1587.8L1899.0 1590.2L1901.0 1593.8L1903.0 1587.1L1905.0 1588.0L1907.0 1594.4L1909.0 1585.3L1911.0 1590.4L1913.0 1594.4L1915.0 1588.2L1917.0 1593.0L1919.0 1588.8L1921.0 1582.0L1923.0 1586.8L1925.0 1588.4L1927.0 1587.7L1929.0 1589.4L1931.0 1591.1L1933.0 1590.6L1935.0 1590.0L1937.0 1587.2L1939.0 1588.1L1941.0 1587.4L1943.0 1586.4L1945.0 1595.4L1947.0 1580.2L1949.0 1590.1L1951.0 1581.4L1953.0 1586.2L1955.0 1592.6L1957.0 1587.5L1959.0 1595.3L1961.0 1584.4L1963.0 1587.4L1965.0 1585.8L1967.0 1588.7L1969.0 1587.2L1971.0 1586.8L1973.0 1589.0L1975.0 1593.6L1977.0 1589.2L1979.0 1588.7L1981.0 1587.0L1983.0 1585.1L1985.0 1581.6L1987.0 1583.4L1989.0 1588.4L1991.0 1579.3L1993.0 1591.2L1995.0 1586.2L1997.0 1583.8L1999.0 1585.5L2001.0 1591.1L2003.0 1589.7L2005.0 1589.3L2007.0 1596.2L2009.0 1598.9L2011.0 1582.2L2013.0 1592.3L2015.0 1584.7L2017.0 1581.9L2019.0 1585.9L2021.0 1593.1L2023.0 1587.0L2025.0 1586.3L2027.0 1595.1L2029.0 1590.9L2031.0 1588.2L2033.0 1597.0L2035.0 1590.9L2037.0 1585.3L2039.0 1583.7L2041.0 1586.7L2043.0 1589.5L2045.0 1593.0L2047.0 1592.6L2049.0 1589.2L2051.0 1583.2L2053.0 1592.9L2055.0 1589.0L2057.0 1583.5L2059.0 1582.8L2061.0 1589.5L2063.0 1590.0L2065.0 1592.1L2067.0 1582.7L2069.0 1597.1L2071.0 1579.8L2073.0 1588.0L2075.0 1594.4L2077.0 1592.9L2079.0 1583.6L2081.0 1590.8L2083.0 1593.7L2085.0 1591.4L2087.0 1583.3L2089.0 1595.6L2090.0 1580.3L2091.0 1588.3L2093.0 1583.7L2095.0 1587.3L2097.0 1588.3L2099.0 1592.8L2101.0 1585.2L2103.0 1592.6L2105.0 1598.2L2107.0 1593.2L2109.0 1595.9L2110.0 1595.7L2111.0 1591.0L2113.0 1594.4L2115.0 1597.9L2117.0 1601.5L2119.0 1610.3L2120.0 1609.3L2121.0 1598.0L2123.0 1595.2L2125.0 1589.5L2127.0 1581.4L2128.0 1595.8L2129.0 1592.0L2131.0 1580.2L2133.0 1589.0L2135.0 1599.0L2137.0 1590.6L2139.0 1590.3L2141.0 1588.6L2143.0 1583.8L2145.0 1581.6L2147.0 1582.9L2149.0 1587.1L2151.0 1585.0L2153.0 1589.1L2155.0 1593.7L2157.0 1588.0L2159.0 1588.8L2160.0 1583.2L2161.0 1578.7L2163.0 1594.7L2165.0 1587.8L2167.0 1589.8L2169.0 1582.4L2171.0 1576.1L2173.0 1590.0L2175.0 1573.8L2177.0 1582.8L2179.0 1580.9L2181.0 1584.3L2183.0 1586.9L2185.0 1586.8L2187.0 1573.0L2189.0 1587.3L2191.0 1573.6L2193.0 1585.5L2195.0 1580.2L2197.0 1576.8L2199.0 1579.4L2200.0 1575.7L2201.0 1581.7L2203.0 1586.1L2205.0 1585.4L2207.0 1581.8L2209.0 1586.6L2211.0 1583.8L2213.0 1591.4L2215.0 1583.7L2217.0 1578.4L2219.0 1579.7L2221.0 1577.5L2223.0 1579.6L2225.0 1580.2L2227.0 1584.0L2229.0 1584.3L2231.0 1580.9L2233.0 1582.5L2235.0 1577.0L2237.0 1577.8L2239.0 1570.3L2241.0 1576.6L2243.0 1577.8L2245.0 1590.3L2247.0 1573.6L2249.0 1580.2L2250.0 1578.3"/>
<path stroke="#008000" stroke-width="6.6" d="M291.0 1542.4L293.0 1542.4L295.0 1544.0L297.0 1545.2L299.0 1546.4L301.0 1545.9L303.0 1545.7L305.0 1546.0L307.0 1548.0L309.0 1549.4L311.0 1548.5L313.0 1547.5L315.0 1548.3L316.0 1551.1L317.0 1550.4L319.0 1549.9L321.0 1553.0L323.0 1553.3L325.0 1555.3L327.0 1556.9L329.0 1558.1L331.0 1560.8L333.0 1561.6L333.5 1561.4L335.0 1563.3L337.0 1565.0L339.0 1563.8L341.0 1566.4L343.0 1567.0L345.0 1569.0L347.0 1569.1L349.0 1571.7L351.0 1572.9L353.0 1573.9L353.5 1573.5L355.0 1576.0L357.0 1577.8L359.0 1580.0L361.0 1584.1L363.0 1585.3L363.5 1588.2L365.0 1588.2L367.0 1586.2L369.0 1589.1L371.0 1588.4L373.0 1590.2L375.0 1590.9L377.0 1589.5L378.5 1591.8L379.0 1591.9L381.0 1593.7L383.0 1592.1L385.0 1594.6L387.0 1593.3L389.0 1594.7L391.0 1594.7L393.0 1597.6L395.0 1597.3L396.0 1599.2L397.0 1598.0L399.0 1599.0L401.0 1599.8L403.0 1599.2L405.0 1600.5L407.0 1602.8L408.5 1601.6L409.0 1602.1L411.0 1601.5L413.0 1601.7L415.0 1600.3L417.0 1600.1L419.0 1600.1L421.0 1599.6L423.0 1596.6L425.0 1596.4L427.0 1592.2L429.0 1590.3L431.0 1588.2L433.0 1588.5L433.5 1586.6L435.0 1583.9L437.0 1581.0L439.0 1579.7L441.0 1575.4L443.0 1572.4L445.0 1571.5L446.0 1568.3L447.0 1568.9L449.0 1568.7L451.0 1567.8L453.0 1567.7L455.0 1568.6L457.0 1566.2L459.0 1565.0L461.0 1563.9L463.0 1565.0L465.0 1564.4L466.0 1564.8L467.0 1564.4L469.0 1565.1L471.0 1565.7L473.0 1566.6L475.0 1568.0L477.0 1568.2L479.0 1569.5L481.0 1572.0L483.0 1571.4L485.0 1570.0L486.0 1573.7L487.0 1572.9L489.0 1572.9L491.0 1575.9L493.0 1576.2L495.0 1576.8L496.0 1577.4L497.0 1576.8L499.0 1577.5L501.0 1578.2L503.0 1576.4L505.0 1576.8L507.0 1578.0L509.0 1574.5L511.0 1575.6L513.0 1574.7L515.0 1573.6L516.0 1573.5L517.0 1573.9L519.0 1573.1L521.0 1571.0L523.0 1570.4L525.0 1569.8L527.0 1568.2L528.5 1567.9L529.0 1567.4L531.0 1567.0L533.0 1567.9L535.0 1566.3L537.0 1565.4L539.0 1565.6L541.0 1563.6L543.0 1563.8L545.0 1564.5L547.0 1563.9L549.0 1564.4L551.0 1562.5L553.0 1560.6L553.5 1563.9L555.0 1563.2L557.0 1561.3L559.0 1563.9L561.0 1562.8L563.0 1561.1L565.0 1562.7L567.0 1562.8L569.0 1565.1L571.0 1563.0L573.0 1563.7L575.0 1563.9L577.0 1564.0L578.5 1563.6L579.0 1564.9L581.0 1566.5L583.0 1566.8L585.0 1566.0L587.0 1566.5L589.0 1568.6L591.0 1568.5L593.0 1569.3L595.0 1569.0L597.0 1573.4L598.5 1572.9L599.0 1571.2L601.0 1574.0L603.0 1575.3L605.0 1572.6L607.0 1575.1L609.0 1576.1L611.0 1578.0L613.0 1578.1L615.0 1578.8L616.0 1579.4L617.0 1581.2L619.0 1581.1L621.0 1578.0L623.0 1577.2L625.0 1579.9L627.0 1576.3L629.0 1576.3L631.0 1576.5L633.0 1576.6L635.0 1576.7L637.0 1575.7L639.0 1574.0L641.0 1575.0L643.0 1574.8L645.0 1576.6L647.0 1574.8L649.0 1573.6L651.0 1574.0L653.0 1576.6L655.0 1574.7L657.0 1573.2L659.0 1574.8L661.0 1575.5L663.0 1576.8L665.0 1574.7L666.0 1576.4L667.0 1576.6L669.0 1575.2L671.0 1575.8L673.0 1577.8L675.0 1577.8L677.0 1577.1L679.0 1576.6L681.0 1577.5L683.0 1576.3L685.0 1576.4L687.0 1575.8L689.0 1576.7L691.0 1576.7L693.0 1579.1L695.0 1576.8L696.0 1578.3L697.0 1578.1L699.0 1576.1L701.0 1576.9L703.0 1573.1L705.0 1574.8L707.0 1575.1L709.0 1571.5L711.0 1572.1L713.0 1573.8L715.0 1572.0L716.0 1570.9L717.0 1571.5L719.0 1571.0L721.0 1572.0L723.0 1571.5L725.0 1570.5L727.0 1568.9L729.0 1568.4L731.0 1568.6L733.0 1566.4L735.0 1565.6L737.0 1563.6L739.0 1561.3L740.0 1561.3L741.0 1562.6L743.0 1561.9L745.0 1560.7L747.0 1559.8L749.0 1561.4L751.0 1560.7L753.0 1560.6L755.0 1560.4L757.0 1562.0L759.0 1563.0L761.0 1564.7L763.0 1565.7L765.0 1567.1L767.0 1567.6L767.5 1566.7L769.0 1568.1L771.0 1570.3L773.0 1571.1L775.0 1573.5L777.0 1575.8L779.0 1575.4L780.0 1575.2L781.0 1578.9L783.0 1579.1L785.0 1581.2L787.0 1580.6L789.0 1585.0L791.0 1585.4L792.5 1585.6L793.0 1585.8L795.0 1587.7L797.0 1589.0L799.0 1590.3L801.0 1591.0L802.5 1594.5L803.0 1593.2L805.0 1593.1L807.0 1593.0L809.0 1590.5L811.0 1593.1L813.0 1592.0L815.0 1591.9L817.0 1592.1L817.5 1591.0L819.0 1592.1L821.0 1589.6L823.0 1588.3L825.0 1587.4L827.0 1587.4L829.0 1587.0L831.0 1584.7L833.0 1582.7L835.0 1584.3L837.0 1583.2L839.0 1586.4L841.0 1586.2L843.0 1586.6L845.0 1587.6L847.0 1589.1L849.0 1589.9L851.0 1589.3L853.0 1590.8L855.0 1592.3L857.0 1590.4L857.5 1589.6L859.0 1590.4L861.0 1591.1L863.0 1592.9L865.0 1593.8L867.0 1594.2L869.0 1597.0L870.0 1594.8L871.0 1595.7L873.0 1599.0L875.0 1598.0L877.0 1597.5L879.0 1597.5L880.0 1598.8L881.0 1597.2L883.0 1596.0L885.0 1593.9L887.0 1594.3L889.0 1592.9L891.0 1592.2L893.0 1591.4L895.0 1591.3L897.0 1590.3L899.0 1590.7L900.0 1588.2L901.0 1589.1L903.0 1590.8L905.0 1588.5L907.0 1589.3L909.0 1588.8L911.0 1588.6L913.0 1587.6L915.0 1585.1L917.0 1585.8L919.0 1585.3L921.0 1583.8L923.0 1584.4L925.0 1583.2L927.0 1582.0L929.0 1583.0L931.0 1581.9L933.0 1580.4L935.0 1579.3L937.0 1578.8L939.0 1578.1L941.0 1577.2L942.5 1576.9L943.0 1576.3L945.0 1575.9L947.0 1574.9L949.0 1573.6L951.0 1571.4L953.0 1570.3L955.0 1570.1L957.0 1568.3L957.5 1568.2L959.0 1564.4L961.0 1562.2L963.0 1562.5L965.0 1560.3L967.0 1559.2L969.0 1556.3L970.0 1554.7L971.0 1553.3L973.0 1549.6L975.0 1549.5L977.0 1545.7L979.0 1544.5L981.0 1541.9L983.0 1539.6L985.0 1537.9L987.0 1533.5L989.0 1530.6L991.0 1527.1L993.0 1524.6L995.0 1523.7L997.0 1515.6L999.0 1511.2L1001.0 1504.6L1002.5 1500.0L1003.0 1498.7L1005.0 1491.9L1007.0 1487.4L1009.0 1482.7L1011.0 1475.6L1012.5 1472.0L1013.0 1470.3L1015.0 1466.2L1017.0 1460.4L1019.0 1457.5L1021.0 1451.3L1023.0 1445.7L1025.0 1443.3L1027.0 1437.5L1029.0 1432.0L1031.0 1426.8L1033.0 1420.9L1035.0 1415.8L1037.0 1411.3L1037.5 1410.1L1039.0 1406.0L1041.0 1399.8L1043.0 1393.8L1045.0 1388.4L1047.0 1383.7L1049.0 1378.3L1050.0 1374.3L1051.0 1371.2L1053.0 1366.4L1055.0 1360.0L1057.0 1354.0L1059.0 1346.6L1061.0 1341.2L1062.5 1336.6L1063.0 1335.7L1065.0 1328.8L1067.0 1325.3L1069.0 1319.0L1071.0 1313.5L1073.0 1306.8L1075.0 1302.0L1077.0 1296.9L1079.0 1288.9L1081.0 1284.2L1083.0 1278.5L1085.0 1271.5L1087.0 1266.6L1087.5 1264.3L1089.0 1260.1L1091.0 1252.7L1093.0 1245.5L1095.0 1239.8L1097.0 1232.1L1098.0 1228.9L1099.0 1224.2L1101.0 1218.5L1103.0 1213.6L1105.0 1207.6L1107.0 1201.0L1109.0 1195.5L1111.0 1187.3L1113.0 1181.1L1115.0 1173.2L1117.0 1167.2L1119.0 1159.7L1121.0 1151.6L1123.0 1144.0L1125.0 1137.3L1127.0 1127.3L1129.0 1119.6L1131.0 1115.9L1133.0 1110.1L1135.0 1106.8L1137.0 1101.0L1139.0 1096.1L1141.0 1091.4L1141.5 1091.2L1143.0 1086.7L1145.0 1081.6L1147.0 1076.4L1149.0 1070.2L1151.0 1065.6L1151.5 1066.0L1153.0 1061.7L1155.0 1056.3L1157.0 1051.1L1159.0 1045.1L1161.0 1040.5L1163.0 1034.5L1164.0 1032.8L1165.0 1029.5L1167.0 1024.9L1169.0 1020.3L1171.0 1014.8L1173.0 1010.5L1174.0 1007.8L1175.0 1004.5L1177.0 998.7L1179.0 990.2L1181.0 983.6L1183.0 978.7L1184.0 975.7L1185.0 974.4L1187.0 969.5L1189.0 965.6L1191.0 960.4L1191.5 960.5L1193.0 954.5L1195.0 945.3L1197.0 937.4L1199.0 929.9L1201.0 918.2L1203.0 904.5L1204.0 900.0L1205.0 897.0L1207.0 890.3L1209.0 884.2L1211.0 872.7L1213.0 860.1L1214.0 855.3L1215.0 851.6L1217.0 844.8L1219.0 839.3L1221.0 833.8L1222.5 827.0L1223.0 825.6L1225.0 820.5L1227.0 818.0L1229.0 811.4L1230.0 809.0L1231.0 806.9L1233.0 803.7L1235.0 799.8L1237.0 798.2L1239.0 795.2L1241.0 786.9L1243.0 780.9L1245.0 774.5L1246.5 770.0L1247.0 768.6L1249.0 762.8L1251.0 758.3L1252.8 752.1L1253.0 751.9L1255.0 740.6L1257.0 735.5L1259.0 732.6L1261.0 724.6L1261.5 722.5L1263.0 712.5L1265.0 704.8L1267.0 702.0L1269.0 693.2L1271.0 689.4L1273.0 686.7L1275.0 681.5L1277.0 683.2L1279.0 682.1L1281.0 681.0L1283.0 675.5L1285.0 672.7L1287.0 668.7L1287.8 672.4L1289.0 669.4L1291.0 658.4L1293.0 653.8L1294.0 650.2L1295.0 649.5L1297.0 647.6L1299.0 652.6L1301.0 655.9L1301.5 652.1L1303.0 652.3L1305.0 648.3L1307.0 653.9L1309.0 651.0L1311.0 640.8L1312.8 632.0L1313.0 631.3L1315.0 633.0L1317.0 633.1L1319.0 633.8L1321.0 634.8L1321.5 635.3L1323.0 637.6L1325.0 630.9L1327.0 633.7L1329.0 631.3L1331.0 624.2L1333.0 616.1L1335.0 615.7L1336.5 608.0L1337.0 608.3L1339.0 610.1L1341.0 606.3L1343.0 607.9L1344.0 607.3L1345.0 607.4L1347.0 604.5L1349.0 597.4L1351.0 597.6L1351.5 594.8L1353.0 594.1L1355.0 591.9L1357.0 592.4L1359.0 586.9L1361.0 588.4L1361.5 589.8L1363.0 585.4L1365.0 588.0L1367.0 580.5L1369.0 580.4L1371.0 577.0L1373.0 574.7L1374.0 572.7L1375.0 569.9L1377.0 562.9L1379.0 553.4L1381.0 548.7L1381.5 548.0L1383.0 543.4L1385.0 550.1L1387.0 550.9L1389.0 553.0L1391.0 556.9L1393.0 554.9L1395.0 553.1L1397.0 552.8L1399.0 548.2L1401.0 552.5L1403.0 548.0L1405.0 548.4L1407.0 546.7L1409.0 546.9L1411.0 541.7L1413.0 532.3L1415.0 525.5L1416.5 517.0L1417.0 518.7L1419.0 520.3L1421.0 516.9L1423.0 524.8L1425.0 520.3L1426.5 519.9L1427.0 526.6L1429.0 530.9L1431.0 528.6L1433.0 532.1L1434.0 539.4L1435.0 531.2L1437.0 519.0L1439.0 513.8L1441.0 511.0L1441.5 506.3L1443.0 505.5L1445.0 505.1L1447.0 502.7L1449.0 499.3L1451.0 497.8L1453.0 502.9L1455.0 500.8L1457.0 503.9L1459.0 508.5L1461.0 507.1L1463.0 507.1L1465.0 508.1L1467.0 510.5L1469.0 511.8L1471.0 502.2L1473.0 500.1L1475.0 498.0L1477.0 490.9L1477.8 486.0L1479.0 490.1L1481.0 493.8L1483.0 502.7L1484.0 510.7L1485.0 508.0L1487.0 507.6L1489.0 509.3L1491.0 511.5L1493.0 512.7L1495.0 513.4L1496.5 513.5L1497.0 516.9L1499.0 521.4L1501.0 519.9L1503.0 522.6L1504.0 527.4L1505.0 520.4L1507.0 518.8L1509.0 515.9L1511.0 513.7L1511.5 512.0L1513.0 512.6L1515.0 517.5L1517.0 517.0L1519.0 518.4L1521.0 520.3L1521.5 526.5L1523.0 526.8L1525.0 538.1L1526.5 543.8L1527.0 543.5L1529.0 539.2L1531.0 536.0L1533.0 534.9L1535.0 531.1L1537.0 527.3L1539.0 530.0L1541.0 526.7L1543.0 533.1L1545.0 531.5L1547.0 530.6L1549.0 533.4L1551.0 535.5L1553.0 530.7L1555.0 532.1L1557.0 532.4L1559.0 535.3L1561.0 536.6L1563.0 536.7L1565.0 535.9L1567.0 537.1L1569.0 541.4L1571.0 542.0L1571.5 540.3L1573.0 540.8L1575.0 549.1L1577.0 553.0L1579.0 557.4L1581.0 564.8L1581.5 564.1L1583.0 558.9L1585.0 556.8L1587.0 559.3L1589.0 554.8L1591.0 553.9L1593.0 549.8L1595.0 546.8L1597.0 548.0L1599.0 549.2L1600.5 546.2L1601.0 542.1L1603.0 545.9L1605.0 546.7L1607.0 550.1L1608.0 553.3L1609.0 561.2L1611.0 565.9L1613.0 574.0L1615.0 572.5L1617.0 569.3L1618.0 566.5L1619.0 556.9L1620.5 540.3L1621.0 536.1L1623.0 538.8L1625.0 533.6L1627.0 529.2L1629.0 531.1L1630.5 526.3L1631.0 534.0L1633.0 534.2L1635.0 537.0L1636.8 538.0L1637.0 538.1L1639.0 534.7L1641.0 522.9L1643.0 520.0L1645.0 507.4L1647.0 510.3L1649.0 508.2L1650.5 503.7L1651.0 503.1L1653.0 507.4L1655.0 503.2L1657.0 504.1L1658.0 508.0L1659.0 508.7L1661.0 501.0L1663.0 493.8L1665.0 490.0L1665.5 489.1L1667.0 485.0L1669.0 483.2L1671.0 488.3L1673.0 488.2L1675.0 497.0L1677.0 501.1L1678.0 505.1L1679.0 506.4L1681.0 500.0L1683.0 494.3L1685.0 494.1L1685.5 486.4L1687.0 488.6L1689.0 496.2L1691.0 491.8L1693.0 492.9L1695.0 502.2L1697.0 499.8L1699.0 501.1L1701.0 501.7L1703.0 503.0L1705.0 494.9L1707.0 492.1L1709.0 485.0L1710.5 485.7L1711.0 485.4L1713.0 480.8L1715.0 481.7L1717.0 483.5L1719.0 471.3L1720.5 475.3L1721.0 476.5L1723.0 480.3L1725.0 478.2L1727.0 487.6L1729.0 489.4L1729.2 487.5L1731.0 480.6L1733.0 475.1L1735.0 470.0L1735.5 468.1L1737.0 485.6L1739.0 497.0L1739.2 502.3L1741.0 493.7L1743.0 491.0L1745.0 482.8L1747.0 474.3L1748.0 469.0L1749.0 474.2L1751.0 484.2L1753.0 494.9L1755.0 482.8L1755.5 474.4L1757.0 489.2L1759.0 507.8L1760.5 520.0L1761.0 519.6L1763.0 517.7L1765.0 511.9L1765.5 508.2L1767.0 511.5L1769.0 525.5L1771.0 530.8L1773.0 544.7L1775.0 562.1L1777.0 573.1L1778.0 584.7L1779.0 582.5L1781.0 586.2L1783.0 578.8L1785.0 581.8L1787.0 598.8L1789.0 608.7L1790.5 614.3L1791.0 612.3L1793.0 609.2L1795.0 603.3L1795.5 601.1L1797.0 596.8L1799.0 599.1L1801.0 595.1L1803.0 595.3L1805.0 603.8L1807.0 608.0L1809.0 615.7L1811.0 629.5L1811.8 626.2L1813.0 617.6L1815.0 606.7L1817.0 603.3L1818.0 597.9L1819.0 597.9L1821.0 610.3L1823.0 610.7L1825.0 617.4L1825.5 624.1L1827.0 615.3L1829.0 611.4L1831.0 608.5L1833.0 603.2L1835.0 598.0L1835.5 599.0L1837.0 607.6L1839.0 609.3L1840.5 610.5L1841.0 611.3L1843.0 613.8L1845.0 618.8L1846.0 621.1L1847.0 633.6L1848.0 648.2L1849.0 641.4L1851.0 639.1L1853.0 632.1L1854.2 629.9L1855.0 626.9L1857.0 648.7L1859.0 652.8L1861.0 666.5L1863.0 684.7L1865.0 683.2L1867.0 691.7L1868.0 687.9L1869.0 678.3L1871.0 669.9L1871.8 663.7L1873.0 680.2L1875.0 697.5L1876.8 709.7L1877.0 704.6L1879.0 693.1L1881.0 683.0L1881.8 672.6L1883.0 671.2L1885.0 673.9L1887.0 671.3L1888.0 667.3L1889.0 666.1L1891.0 659.0L1893.0 666.3L1895.0 660.3L1897.0 654.3L1899.0 653.2L1900.5 652.3L1901.0 660.4L1903.0 658.6L1905.0 653.7L1907.0 664.5L1909.0 664.1L1911.0 658.1L1913.0 655.9L1915.0 647.4L1917.0 624.7L1917.5 621.6L1919.0 616.5L1921.0 616.6L1923.0 611.9L1925.0 609.3L1927.0 605.7L1929.0 606.3L1930.5 606.9L1931.0 604.8L1933.0 631.2L1935.0 614.7L1937.0 604.7L1938.0 598.4L1939.0 585.5L1940.5 563.2L1941.0 565.4L1943.0 553.2L1945.0 546.9L1947.0 545.4L1949.0 537.4L1951.0 536.2L1953.0 525.5L1954.0 525.5L1955.0 526.1L1957.0 522.9L1959.0 517.0L1959.8 519.3L1961.0 532.8L1962.0 535.0L1963.0 537.5L1965.0 529.6L1967.0 520.9L1968.0 516.2L1969.0 516.1L1971.0 512.8L1973.0 508.1L1974.0 509.2L1975.0 509.1L1977.0 506.3L1979.0 507.8L1980.0 513.7L1981.0 519.6L1983.0 543.3L1983.5 549.5L1985.0 550.2L1987.0 547.3L1988.0 549.5L1989.0 548.7L1991.0 562.1L1993.0 568.1L1995.0 580.7L1996.0 585.5L1997.0 579.4L1999.0 569.6L2001.0 573.3L2003.0 565.7L2003.5 563.5L2005.0 569.1L2007.0 581.0L2008.5 591.5L2009.0 591.0L2011.0 597.8L2013.0 598.0L2015.0 598.5L2016.0 604.5L2017.0 596.2L2019.0 589.8L2021.0 574.7L2023.0 591.1L2024.8 604.3L2025.0 600.3L2027.0 599.8L2029.0 599.3L2031.0 595.3L2033.0 582.0L2035.0 557.5L2036.0 548.5L2037.0 547.8L2039.0 540.8L2041.0 540.5L2043.0 530.7L2045.0 512.1L2046.0 509.2L2047.0 503.5L2049.0 500.6L2051.0 501.5L2053.0 496.6L2053.5 499.9L2055.0 470.9L2056.0 461.4L2057.0 456.1L2059.0 443.8L2061.0 433.5L2063.0 426.2L2065.0 416.2L2066.0 410.9L2067.0 413.6L2069.0 406.8L2071.0 405.5L2073.0 407.5L2075.0 404.9L2077.0 402.4L2077.2 404.4L2079.0 439.1L2079.8 449.5L2081.0 447.5L2083.0 434.1L2084.8 425.7L2085.0 426.7L2087.0 455.2L2089.0 485.6L2091.0 493.2L2092.0 499.3L2093.0 499.1L2095.0 506.3L2097.0 501.8L2099.0 506.8L2101.0 514.0L2103.0 524.3L2105.0 528.2L2106.0 536.1L2107.0 533.9L2109.0 555.3L2111.0 567.1L2113.0 570.3L2115.0 576.3L2117.0 587.9L2118.5 596.0L2119.0 590.3L2121.0 565.5L2123.0 575.0L2125.0 582.3L2127.0 583.5L2129.0 594.0L2131.0 601.1L2133.0 581.3L2133.5 570.7L2135.0 574.5L2137.0 570.8L2139.0 576.1L2141.0 568.6L2142.2 568.2L2143.0 571.7L2145.0 582.7L2147.0 598.9L2148.5 598.7L2149.0 612.5L2149.8 637.1L2151.0 633.2L2153.0 617.8L2155.0 612.7L2156.0 607.4L2157.0 609.0L2159.0 617.4L2161.0 624.4L2163.0 634.6L2163.5 635.2L2165.0 656.4L2166.0 667.5L2167.0 658.3L2169.0 652.0L2171.0 639.4L2173.0 618.5L2175.0 596.1L2176.0 583.4L2177.0 573.5L2179.0 556.6L2181.0 535.4L2183.0 522.3L2185.0 516.7L2186.0 500.4L2187.0 493.8L2189.0 477.5L2191.0 459.9L2193.0 410.2L2193.5 399.4L2195.0 367.9L2196.0 349.9L2197.0 338.5L2199.0 310.1L2199.8 300.4L2201.0 290.6L2203.0 279.3L2203.5 279.2L2205.0 270.8L2207.0 253.2L2207.2 253.3L2209.0 225.0L2209.8 213.4L2211.0 211.0L2213.0 222.4L2213.5 222.3L2215.0 220.2L2217.0 207.8L2218.5 201.0L2219.0 194.6L2221.0 175.5L2223.0 162.1L2223.5 164.3L2225.0 170.2L2227.0 180.2L2228.5 180.6L2229.0 192.9L2231.0 238.0L2233.0 240.0L2235.0 253.0L2236.0 253.4L2237.0 260.1L2239.0 272.4L2239.8 277.7L2241.0 323.6L2243.0 332.0L2245.0 349.6L2246.0 350.6L2247.0 390.4L2248.5 447.8L2249.0 450.9L2251.0 462.1L2252.0 469.6"/>
</g>
<g stroke="#000" stroke-width="6.2" stroke-linecap="round" fill="none">
<path stroke-linecap="square" d="M291.3 33.9 H2250.0 V1610.7 H291.3 Z"/>
<path d="M291.3 1610.8 H260.5"/>
<path d="M291.3 1505.6 H276.5"/>
<path d="M291.3 1400.4 H260.5"/>
<path d="M291.3 1295.2 H276.5"/>
<path d="M291.3 1190.1 H260.5"/>
<path d="M291.3 1084.9 H276.5"/>
<path d="M291.3 979.7 H260.5"/>
<path d="M291.3 874.5 H276.5"/>
<path d="M291.3 769.3 H260.5"/>
<path d="M291.3 664.1 H276.5"/>
<path d="M291.3 559.0 H260.5"/>
<path d="M291.3 453.8 H276.5"/>
<path d="M291.3 348.6 H260.5"/>
<path d="M291.3 243.4 H276.5"/>
<path d="M291.3 138.2 H260.5"/>
<path d="M291.3 33.0 H276.5"/>
<path d="M350.9 1610.7 V1641.5"/>
<path d="M499.2 1610.7 V1625.5"/>
<path d="M647.6 1610.7 V1641.5"/>
<path d="M795.9 1610.7 V1625.5"/>
<path d="M944.3 1610.7 V1641.5"/>
<path d="M1092.6 1610.7 V1625.5"/>
<path d="M1241.0 1610.7 V1641.5"/>
<path d="M1389.3 1610.7 V1625.5"/>
<path d="M1537.6 1610.7 V1641.5"/>
<path d="M1686.0 1610.7 V1625.5"/>
<path d="M1834.3 1610.7 V1641.5"/>
<path d="M1982.7 1610.7 V1625.5"/>
<path d="M2131.0 1610.7 V1641.5"/>
</g>
<g font-size="67" text-anchor="end">
<text transform="translate(238.5 1630.8) scale(1 1.055)">0</text>
<text transform="translate(238.5 1420.4) scale(1 1.055)">100</text>
<text transform="translate(238.5 1210.1) scale(1 1.055)">200</text>
<text transform="translate(238.5 999.7) scale(1 1.055)">300</text>
<text transform="translate(238.5 789.3) scale(1 1.055)">400</text>
<text transform="translate(238.5 579.0) scale(1 1.055)">500</text>
<text transform="translate(238.5 368.6) scale(1 1.055)">600</text>
<text transform="translate(238.5 158.2) scale(1 1.055)">700</text>
</g>
<g font-size="67" text-anchor="middle">
<text transform="translate(349.4 1715) scale(1 1.055)">400</text>
<text transform="translate(646.1 1715) scale(1 1.055)">450</text>
<text transform="translate(942.8 1715) scale(1 1.055)">500</text>
<text transform="translate(1239.5 1715) scale(1 1.055)">550</text>
<text transform="translate(1536.1 1715) scale(1 1.055)">600</text>
<text transform="translate(1832.8 1715) scale(1 1.055)">650</text>
<text transform="translate(2129.5 1715) scale(1 1.055)">700</text>
</g>
<text font-size="82.5" x="1021.5" y="1827.5">Wavelength (nm)</text>
<text font-size="82.5" transform="translate(104 1064.5) rotate(-90)">Intensity (a. u.)</text>
<g stroke-width="6" stroke-linecap="round">
<path stroke="#000000" d="M1486.5 835.0 H1668"/>
<path stroke="#ff0000" d="M1486.5 958.5 H1668"/>
<path stroke="#0000ff" d="M1486.5 1059.5 H1668"/>
<path stroke="#ff00ff" d="M1486.5 1161.0 H1668"/>
<path stroke="#008000" d="M1486.5 1261.5 H1668"/>
</g>
<g font-size="82.5">
<text x="1692" y="862">g-C<tspan font-size="47" dy="28.5">3</tspan><tspan dy="-28.5">N</tspan><tspan font-size="47" dy="28.5">4</tspan></text>
<text x="1692" y="986.5">G-CdS-1</text>
<text x="1692" y="1087.5">G-CdS-3</text>
<text x="1692" y="1189.0">G-CdS-5</text>
<text x="1692" y="1289.5">CdS</text>
</g>
</svg></body></html>
